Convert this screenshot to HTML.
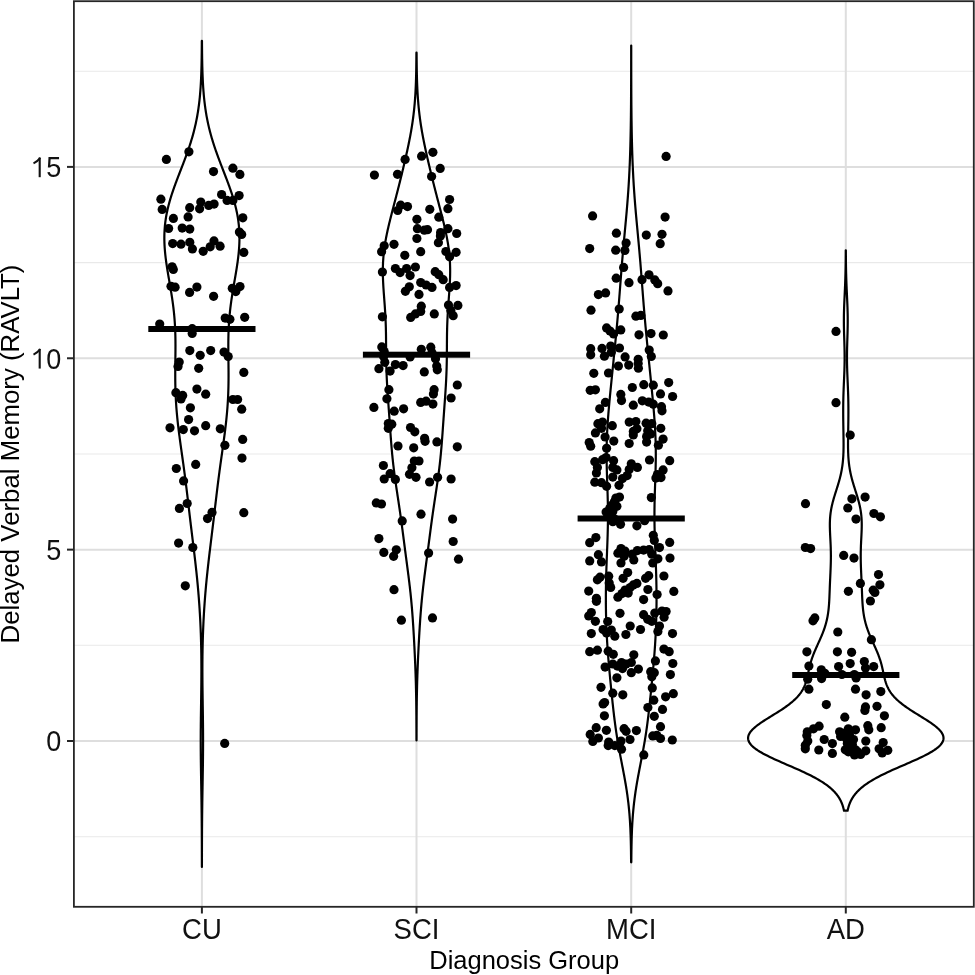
<!DOCTYPE html>
<html><head><meta charset="utf-8"><style>
html,body{margin:0;padding:0;background:#fff;width:975px;height:975px;overflow:hidden}
svg{display:block;will-change:transform}
.tk{font-family:"Liberation Sans",sans-serif;font-size:27px;fill:#111}
.ti{font-family:"Liberation Sans",sans-serif;font-size:25.5px;fill:#000}
</style></head><body>
<svg width="975" height="975" viewBox="0 0 975 975">
<rect width="975" height="975" fill="#fff"/>
<line x1="73.9" x2="973.8" y1="836.68" y2="836.68" stroke="#e9e9e9" stroke-width="1.1"/>
<line x1="73.9" x2="973.8" y1="645.32" y2="645.32" stroke="#e9e9e9" stroke-width="1.1"/>
<line x1="73.9" x2="973.8" y1="453.95" y2="453.95" stroke="#e9e9e9" stroke-width="1.1"/>
<line x1="73.9" x2="973.8" y1="262.59" y2="262.59" stroke="#e9e9e9" stroke-width="1.1"/>
<line x1="73.9" x2="973.8" y1="71.22" y2="71.22" stroke="#e9e9e9" stroke-width="1.1"/>
<line x1="73.9" x2="973.8" y1="741.00" y2="741.00" stroke="#dedede" stroke-width="2"/>
<line x1="73.9" x2="973.8" y1="549.63" y2="549.63" stroke="#dedede" stroke-width="2"/>
<line x1="73.9" x2="973.8" y1="358.27" y2="358.27" stroke="#dedede" stroke-width="2"/>
<line x1="73.9" x2="973.8" y1="166.90" y2="166.90" stroke="#dedede" stroke-width="2"/>
<line x1="201.9" x2="201.9" y1="1.2" y2="906.8" stroke="#dedede" stroke-width="2"/>
<line x1="416.5" x2="416.5" y1="1.2" y2="906.8" stroke="#dedede" stroke-width="2"/>
<line x1="631.2" x2="631.2" y1="1.2" y2="906.8" stroke="#dedede" stroke-width="2"/>
<line x1="845.8" x2="845.8" y1="1.2" y2="906.8" stroke="#dedede" stroke-width="2"/>
<path d="M201.89,866.96 L201.89,865.34 L201.88,863.72 L201.88,862.11 L201.88,860.49 L201.88,858.87 L201.87,857.26 L201.87,855.64 L201.87,854.02 L201.87,852.41 L201.86,850.79 L201.86,849.18 L201.85,847.56 L201.85,845.94 L201.84,844.33 L201.84,842.71 L201.83,841.09 L201.83,839.48 L201.82,837.86 L201.81,836.24 L201.80,834.63 L201.79,833.01 L201.79,831.39 L201.78,829.78 L201.77,828.16 L201.75,826.55 L201.74,824.93 L201.73,823.31 L201.72,821.70 L201.70,820.08 L201.69,818.46 L201.67,816.85 L201.66,815.23 L201.64,813.61 L201.62,812.00 L201.60,810.38 L201.58,808.76 L201.56,807.15 L201.54,805.53 L201.52,803.91 L201.50,802.30 L201.48,800.68 L201.45,799.07 L201.43,797.45 L201.40,795.83 L201.38,794.22 L201.35,792.60 L201.33,790.98 L201.30,789.37 L201.27,787.75 L201.25,786.13 L201.22,784.52 L201.19,782.90 L201.17,781.28 L201.14,779.67 L201.11,778.05 L201.08,776.44 L201.06,774.82 L201.03,773.20 L201.01,771.59 L200.98,769.97 L200.96,768.35 L200.93,766.74 L200.91,765.12 L200.89,763.50 L200.87,761.89 L200.85,760.27 L200.83,758.65 L200.82,757.04 L200.80,755.42 L200.79,753.80 L200.78,752.19 L200.76,750.57 L200.76,748.96 L200.75,747.34 L200.74,745.72 L200.74,744.11 L200.73,742.49 L200.73,740.87 L200.73,739.26 L200.74,737.64 L200.74,736.02 L200.75,734.41 L200.75,732.79 L200.76,731.17 L200.77,729.56 L200.79,727.94 L200.80,726.32 L200.81,724.71 L200.83,723.09 L200.85,721.48 L200.87,719.86 L200.88,718.24 L200.90,716.63 L200.93,715.01 L200.95,713.39 L200.97,711.78 L200.99,710.16 L201.02,708.54 L201.04,706.93 L201.06,705.31 L201.09,703.69 L201.11,702.08 L201.13,700.46 L201.16,698.85 L201.18,697.23 L201.20,695.61 L201.22,694.00 L201.24,692.38 L201.26,690.76 L201.28,689.15 L201.30,687.53 L201.32,685.91 L201.33,684.30 L201.35,682.68 L201.36,681.06 L201.37,679.45 L201.38,677.83 L201.39,676.21 L201.40,674.60 L201.40,672.98 L201.41,671.37 L201.41,669.75 L201.41,668.13 L201.40,666.52 L201.40,664.90 L201.39,663.28 L201.38,661.67 L201.37,660.05 L201.35,658.43 L201.34,656.82 L201.32,655.20 L201.30,653.58 L201.27,651.97 L201.25,650.35 L201.22,648.74 L201.18,647.12 L201.15,645.50 L201.11,643.89 L201.07,642.27 L201.03,640.65 L200.98,639.04 L200.94,637.42 L200.88,635.80 L200.83,634.19 L200.77,632.57 L200.71,630.95 L200.65,629.34 L200.58,627.72 L200.51,626.10 L200.44,624.49 L200.37,622.87 L200.29,621.26 L200.21,619.64 L200.12,618.02 L200.03,616.41 L199.94,614.79 L199.85,613.17 L199.75,611.56 L199.65,609.94 L199.55,608.32 L199.44,606.71 L199.33,605.09 L199.22,603.47 L199.10,601.86 L198.98,600.24 L198.86,598.63 L198.73,597.01 L198.61,595.39 L198.47,593.78 L198.34,592.16 L198.20,590.54 L198.06,588.93 L197.92,587.31 L197.77,585.69 L197.62,584.08 L197.46,582.46 L197.31,580.84 L197.15,579.23 L196.99,577.61 L196.82,575.99 L196.66,574.38 L196.49,572.76 L196.32,571.15 L196.14,569.53 L195.96,567.91 L195.79,566.30 L195.60,564.68 L195.42,563.06 L195.24,561.45 L195.05,559.83 L194.86,558.21 L194.67,556.60 L194.48,554.98 L194.29,553.36 L194.10,551.75 L193.90,550.13 L193.71,548.52 L193.51,546.90 L193.31,545.28 L193.12,543.67 L192.92,542.05 L192.72,540.43 L192.52,538.82 L192.32,537.20 L192.13,535.58 L191.93,533.97 L191.73,532.35 L191.53,530.73 L191.34,529.12 L191.14,527.50 L190.95,525.88 L190.75,524.27 L190.56,522.65 L190.36,521.04 L190.17,519.42 L189.98,517.80 L189.79,516.19 L189.59,514.57 L189.40,512.95 L189.21,511.34 L189.02,509.72 L188.83,508.10 L188.64,506.49 L188.45,504.87 L188.26,503.25 L188.07,501.64 L187.88,500.02 L187.69,498.40 L187.49,496.79 L187.30,495.17 L187.11,493.56 L186.91,491.94 L186.72,490.32 L186.52,488.71 L186.32,487.09 L186.12,485.47 L185.92,483.86 L185.72,482.24 L185.51,480.62 L185.31,479.01 L185.10,477.39 L184.89,475.77 L184.68,474.16 L184.46,472.54 L184.25,470.93 L184.03,469.31 L183.81,467.69 L183.59,466.08 L183.37,464.46 L183.14,462.84 L182.92,461.23 L182.69,459.61 L182.47,457.99 L182.24,456.38 L182.01,454.76 L181.78,453.14 L181.56,451.53 L181.33,449.91 L181.10,448.29 L180.87,446.68 L180.65,445.06 L180.42,443.45 L180.20,441.83 L179.98,440.21 L179.76,438.60 L179.55,436.98 L179.33,435.36 L179.12,433.75 L178.92,432.13 L178.71,430.51 L178.51,428.90 L178.32,427.28 L178.13,425.66 L177.94,424.05 L177.76,422.43 L177.59,420.82 L177.42,419.20 L177.26,417.58 L177.10,415.97 L176.95,414.35 L176.80,412.73 L176.66,411.12 L176.53,409.50 L176.40,407.88 L176.28,406.27 L176.17,404.65 L176.06,403.03 L175.96,401.42 L175.87,399.80 L175.79,398.18 L175.71,396.57 L175.63,394.95 L175.57,393.34 L175.51,391.72 L175.46,390.10 L175.41,388.49 L175.37,386.87 L175.34,385.25 L175.31,383.64 L175.29,382.02 L175.27,380.40 L175.26,378.79 L175.25,377.17 L175.25,375.55 L175.25,373.94 L175.25,372.32 L175.26,370.71 L175.27,369.09 L175.29,367.47 L175.30,365.86 L175.32,364.24 L175.34,362.62 L175.36,361.01 L175.37,359.39 L175.39,357.77 L175.41,356.16 L175.43,354.54 L175.44,352.92 L175.46,351.31 L175.47,349.69 L175.47,348.07 L175.48,346.46 L175.48,344.84 L175.47,343.23 L175.46,341.61 L175.44,339.99 L175.42,338.38 L175.39,336.76 L175.35,335.14 L175.31,333.53 L175.26,331.91 L175.20,330.29 L175.13,328.68 L175.05,327.06 L174.96,325.44 L174.87,323.83 L174.76,322.21 L174.65,320.60 L174.53,318.98 L174.39,317.36 L174.25,315.75 L174.10,314.13 L173.94,312.51 L173.77,310.90 L173.59,309.28 L173.40,307.66 L173.20,306.05 L172.99,304.43 L172.77,302.81 L172.55,301.20 L172.32,299.58 L172.08,297.96 L171.83,296.35 L171.58,294.73 L171.33,293.12 L171.06,291.50 L170.80,289.88 L170.52,288.27 L170.25,286.65 L169.97,285.03 L169.70,283.42 L169.42,281.80 L169.14,280.18 L168.86,278.57 L168.58,276.95 L168.30,275.33 L168.03,273.72 L167.76,272.10 L167.49,270.48 L167.23,268.87 L166.98,267.25 L166.73,265.64 L166.49,264.02 L166.26,262.40 L166.04,260.79 L165.83,259.17 L165.63,257.55 L165.44,255.94 L165.26,254.32 L165.10,252.70 L164.95,251.09 L164.82,249.47 L164.70,247.85 L164.60,246.24 L164.51,244.62 L164.44,243.01 L164.39,241.39 L164.36,239.77 L164.35,238.16 L164.35,236.54 L164.38,234.92 L164.43,233.31 L164.49,231.69 L164.58,230.07 L164.69,228.46 L164.82,226.84 L164.97,225.22 L165.15,223.61 L165.34,221.99 L165.56,220.37 L165.79,218.76 L166.05,217.14 L166.33,215.53 L166.63,213.91 L166.95,212.29 L167.30,210.68 L167.66,209.06 L168.04,207.44 L168.44,205.83 L168.86,204.21 L169.30,202.59 L169.75,200.98 L170.22,199.36 L170.71,197.74 L171.21,196.13 L171.73,194.51 L172.26,192.90 L172.80,191.28 L173.36,189.66 L173.93,188.05 L174.50,186.43 L175.09,184.81 L175.69,183.20 L176.29,181.58 L176.90,179.96 L177.51,178.35 L178.13,176.73 L178.76,175.11 L179.38,173.50 L180.01,171.88 L180.64,170.26 L181.26,168.65 L181.89,167.03 L182.51,165.42 L183.13,163.80 L183.75,162.18 L184.36,160.57 L184.97,158.95 L185.57,157.33 L186.17,155.72 L186.75,154.10 L187.33,152.48 L187.90,150.87 L188.46,149.25 L189.01,147.63 L189.55,146.02 L190.07,144.40 L190.59,142.79 L191.09,141.17 L191.58,139.55 L192.06,137.94 L192.53,136.32 L192.98,134.70 L193.42,133.09 L193.85,131.47 L194.26,129.85 L194.66,128.24 L195.04,126.62 L195.41,125.00 L195.77,123.39 L196.11,121.77 L196.44,120.15 L196.76,118.54 L197.07,116.92 L197.36,115.31 L197.63,113.69 L197.90,112.07 L198.15,110.46 L198.39,108.84 L198.62,107.22 L198.84,105.61 L199.05,103.99 L199.24,102.37 L199.43,100.76 L199.60,99.14 L199.77,97.52 L199.92,95.91 L200.07,94.29 L200.20,92.68 L200.33,91.06 L200.45,89.44 L200.57,87.83 L200.67,86.21 L200.77,84.59 L200.86,82.98 L200.95,81.36 L201.03,79.74 L201.10,78.13 L201.17,76.51 L201.24,74.89 L201.29,73.28 L201.35,71.66 L201.40,70.04 L201.44,68.43 L201.49,66.81 L201.53,65.20 L201.56,63.58 L201.59,61.96 L201.62,60.35 L201.65,58.73 L201.68,57.11 L201.70,55.50 L201.72,53.88 L201.74,52.26 L201.75,50.65 L201.77,49.03 L201.78,47.41 L201.80,45.80 L201.81,44.18 L201.82,42.57 L201.83,40.95 L201.97,40.95 L201.98,42.57 L201.99,44.18 L202.00,45.80 L202.02,47.41 L202.03,49.03 L202.05,50.65 L202.06,52.26 L202.08,53.88 L202.10,55.50 L202.12,57.11 L202.15,58.73 L202.18,60.35 L202.21,61.96 L202.24,63.58 L202.27,65.20 L202.31,66.81 L202.36,68.43 L202.40,70.04 L202.45,71.66 L202.51,73.28 L202.56,74.89 L202.63,76.51 L202.70,78.13 L202.77,79.74 L202.85,81.36 L202.94,82.98 L203.03,84.59 L203.13,86.21 L203.23,87.83 L203.35,89.44 L203.47,91.06 L203.60,92.68 L203.73,94.29 L203.88,95.91 L204.03,97.52 L204.20,99.14 L204.37,100.76 L204.56,102.37 L204.75,103.99 L204.96,105.61 L205.18,107.22 L205.41,108.84 L205.65,110.46 L205.90,112.07 L206.17,113.69 L206.44,115.31 L206.73,116.92 L207.04,118.54 L207.36,120.15 L207.69,121.77 L208.03,123.39 L208.39,125.00 L208.76,126.62 L209.14,128.24 L209.54,129.85 L209.95,131.47 L210.38,133.09 L210.82,134.70 L211.27,136.32 L211.74,137.94 L212.22,139.55 L212.71,141.17 L213.21,142.79 L213.73,144.40 L214.25,146.02 L214.79,147.63 L215.34,149.25 L215.90,150.87 L216.47,152.48 L217.05,154.10 L217.63,155.72 L218.23,157.33 L218.83,158.95 L219.44,160.57 L220.05,162.18 L220.67,163.80 L221.29,165.42 L221.91,167.03 L222.54,168.65 L223.16,170.26 L223.79,171.88 L224.42,173.50 L225.04,175.11 L225.67,176.73 L226.29,178.35 L226.90,179.96 L227.51,181.58 L228.11,183.20 L228.71,184.81 L229.30,186.43 L229.87,188.05 L230.44,189.66 L231.00,191.28 L231.54,192.90 L232.07,194.51 L232.59,196.13 L233.09,197.74 L233.58,199.36 L234.05,200.98 L234.50,202.59 L234.94,204.21 L235.36,205.83 L235.76,207.44 L236.14,209.06 L236.50,210.68 L236.85,212.29 L237.17,213.91 L237.47,215.53 L237.75,217.14 L238.01,218.76 L238.24,220.37 L238.46,221.99 L238.65,223.61 L238.83,225.22 L238.98,226.84 L239.11,228.46 L239.22,230.07 L239.31,231.69 L239.37,233.31 L239.42,234.92 L239.45,236.54 L239.45,238.16 L239.44,239.77 L239.41,241.39 L239.36,243.01 L239.29,244.62 L239.20,246.24 L239.10,247.85 L238.98,249.47 L238.85,251.09 L238.70,252.70 L238.54,254.32 L238.36,255.94 L238.17,257.55 L237.97,259.17 L237.76,260.79 L237.54,262.40 L237.31,264.02 L237.07,265.64 L236.82,267.25 L236.57,268.87 L236.31,270.48 L236.04,272.10 L235.77,273.72 L235.50,275.33 L235.22,276.95 L234.94,278.57 L234.66,280.18 L234.38,281.80 L234.10,283.42 L233.83,285.03 L233.55,286.65 L233.28,288.27 L233.00,289.88 L232.74,291.50 L232.47,293.12 L232.22,294.73 L231.97,296.35 L231.72,297.96 L231.48,299.58 L231.25,301.20 L231.03,302.81 L230.81,304.43 L230.60,306.05 L230.40,307.66 L230.21,309.28 L230.03,310.90 L229.86,312.51 L229.70,314.13 L229.55,315.75 L229.41,317.36 L229.27,318.98 L229.15,320.60 L229.04,322.21 L228.93,323.83 L228.84,325.44 L228.75,327.06 L228.67,328.68 L228.60,330.29 L228.54,331.91 L228.49,333.53 L228.45,335.14 L228.41,336.76 L228.38,338.38 L228.36,339.99 L228.34,341.61 L228.33,343.23 L228.32,344.84 L228.32,346.46 L228.33,348.07 L228.33,349.69 L228.34,351.31 L228.36,352.92 L228.37,354.54 L228.39,356.16 L228.41,357.77 L228.43,359.39 L228.44,361.01 L228.46,362.62 L228.48,364.24 L228.50,365.86 L228.51,367.47 L228.53,369.09 L228.54,370.71 L228.55,372.32 L228.55,373.94 L228.55,375.55 L228.55,377.17 L228.54,378.79 L228.53,380.40 L228.51,382.02 L228.49,383.64 L228.46,385.25 L228.43,386.87 L228.39,388.49 L228.34,390.10 L228.29,391.72 L228.23,393.34 L228.17,394.95 L228.09,396.57 L228.01,398.18 L227.93,399.80 L227.84,401.42 L227.74,403.03 L227.63,404.65 L227.52,406.27 L227.40,407.88 L227.27,409.50 L227.14,411.12 L227.00,412.73 L226.85,414.35 L226.70,415.97 L226.54,417.58 L226.38,419.20 L226.21,420.82 L226.04,422.43 L225.86,424.05 L225.67,425.66 L225.48,427.28 L225.29,428.90 L225.09,430.51 L224.88,432.13 L224.68,433.75 L224.47,435.36 L224.25,436.98 L224.04,438.60 L223.82,440.21 L223.60,441.83 L223.38,443.45 L223.15,445.06 L222.93,446.68 L222.70,448.29 L222.47,449.91 L222.24,451.53 L222.02,453.14 L221.79,454.76 L221.56,456.38 L221.33,457.99 L221.11,459.61 L220.88,461.23 L220.66,462.84 L220.43,464.46 L220.21,466.08 L219.99,467.69 L219.77,469.31 L219.55,470.93 L219.34,472.54 L219.12,474.16 L218.91,475.77 L218.70,477.39 L218.49,479.01 L218.29,480.62 L218.08,482.24 L217.88,483.86 L217.68,485.47 L217.48,487.09 L217.28,488.71 L217.08,490.32 L216.89,491.94 L216.69,493.56 L216.50,495.17 L216.31,496.79 L216.11,498.40 L215.92,500.02 L215.73,501.64 L215.54,503.25 L215.35,504.87 L215.16,506.49 L214.97,508.10 L214.78,509.72 L214.59,511.34 L214.40,512.95 L214.21,514.57 L214.01,516.19 L213.82,517.80 L213.63,519.42 L213.44,521.04 L213.24,522.65 L213.05,524.27 L212.85,525.88 L212.66,527.50 L212.46,529.12 L212.27,530.73 L212.07,532.35 L211.87,533.97 L211.67,535.58 L211.48,537.20 L211.28,538.82 L211.08,540.43 L210.88,542.05 L210.68,543.67 L210.49,545.28 L210.29,546.90 L210.09,548.52 L209.90,550.13 L209.70,551.75 L209.51,553.36 L209.32,554.98 L209.13,556.60 L208.94,558.21 L208.75,559.83 L208.56,561.45 L208.38,563.06 L208.20,564.68 L208.01,566.30 L207.84,567.91 L207.66,569.53 L207.48,571.15 L207.31,572.76 L207.14,574.38 L206.98,575.99 L206.81,577.61 L206.65,579.23 L206.49,580.84 L206.34,582.46 L206.18,584.08 L206.03,585.69 L205.88,587.31 L205.74,588.93 L205.60,590.54 L205.46,592.16 L205.33,593.78 L205.19,595.39 L205.07,597.01 L204.94,598.63 L204.82,600.24 L204.70,601.86 L204.58,603.47 L204.47,605.09 L204.36,606.71 L204.25,608.32 L204.15,609.94 L204.05,611.56 L203.95,613.17 L203.86,614.79 L203.77,616.41 L203.68,618.02 L203.59,619.64 L203.51,621.26 L203.43,622.87 L203.36,624.49 L203.29,626.10 L203.22,627.72 L203.15,629.34 L203.09,630.95 L203.03,632.57 L202.97,634.19 L202.92,635.80 L202.86,637.42 L202.82,639.04 L202.77,640.65 L202.73,642.27 L202.69,643.89 L202.65,645.50 L202.62,647.12 L202.58,648.74 L202.55,650.35 L202.53,651.97 L202.50,653.58 L202.48,655.20 L202.46,656.82 L202.45,658.43 L202.43,660.05 L202.42,661.67 L202.41,663.28 L202.40,664.90 L202.40,666.52 L202.39,668.13 L202.39,669.75 L202.39,671.37 L202.40,672.98 L202.40,674.60 L202.41,676.21 L202.42,677.83 L202.43,679.45 L202.44,681.06 L202.45,682.68 L202.47,684.30 L202.48,685.91 L202.50,687.53 L202.52,689.15 L202.54,690.76 L202.56,692.38 L202.58,694.00 L202.60,695.61 L202.62,697.23 L202.64,698.85 L202.67,700.46 L202.69,702.08 L202.71,703.69 L202.74,705.31 L202.76,706.93 L202.78,708.54 L202.81,710.16 L202.83,711.78 L202.85,713.39 L202.87,715.01 L202.90,716.63 L202.92,718.24 L202.93,719.86 L202.95,721.48 L202.97,723.09 L202.99,724.71 L203.00,726.32 L203.01,727.94 L203.03,729.56 L203.04,731.17 L203.05,732.79 L203.05,734.41 L203.06,736.02 L203.06,737.64 L203.07,739.26 L203.07,740.87 L203.07,742.49 L203.06,744.11 L203.06,745.72 L203.05,747.34 L203.04,748.96 L203.04,750.57 L203.02,752.19 L203.01,753.80 L203.00,755.42 L202.98,757.04 L202.97,758.65 L202.95,760.27 L202.93,761.89 L202.91,763.50 L202.89,765.12 L202.87,766.74 L202.84,768.35 L202.82,769.97 L202.79,771.59 L202.77,773.20 L202.74,774.82 L202.72,776.44 L202.69,778.05 L202.66,779.67 L202.63,781.28 L202.61,782.90 L202.58,784.52 L202.55,786.13 L202.53,787.75 L202.50,789.37 L202.47,790.98 L202.45,792.60 L202.42,794.22 L202.40,795.83 L202.37,797.45 L202.35,799.07 L202.32,800.68 L202.30,802.30 L202.28,803.91 L202.26,805.53 L202.24,807.15 L202.22,808.76 L202.20,810.38 L202.18,812.00 L202.16,813.61 L202.14,815.23 L202.13,816.85 L202.11,818.46 L202.10,820.08 L202.08,821.70 L202.07,823.31 L202.06,824.93 L202.05,826.55 L202.03,828.16 L202.02,829.78 L202.01,831.39 L202.01,833.01 L202.00,834.63 L201.99,836.24 L201.98,837.86 L201.97,839.48 L201.97,841.09 L201.96,842.71 L201.96,844.33 L201.95,845.94 L201.95,847.56 L201.94,849.18 L201.94,850.79 L201.93,852.41 L201.93,854.02 L201.93,855.64 L201.93,857.26 L201.92,858.87 L201.92,860.49 L201.92,862.11 L201.92,863.72 L201.91,865.34 L201.91,866.96Z" fill="#fff" stroke="#000" stroke-width="2.2" stroke-linejoin="round"/>
<path d="M416.48,740.43 L416.48,739.08 L416.47,737.73 L416.47,736.39 L416.47,735.04 L416.47,733.70 L416.46,732.35 L416.46,731.00 L416.45,729.66 L416.45,728.31 L416.44,726.97 L416.44,725.62 L416.43,724.27 L416.43,722.93 L416.42,721.58 L416.41,720.24 L416.40,718.89 L416.39,717.55 L416.39,716.20 L416.37,714.85 L416.36,713.51 L416.35,712.16 L416.34,710.82 L416.33,709.47 L416.31,708.12 L416.30,706.78 L416.28,705.43 L416.26,704.09 L416.25,702.74 L416.23,701.39 L416.21,700.05 L416.19,698.70 L416.16,697.36 L416.14,696.01 L416.12,694.66 L416.09,693.32 L416.06,691.97 L416.03,690.63 L416.00,689.28 L415.97,687.93 L415.94,686.59 L415.91,685.24 L415.87,683.90 L415.84,682.55 L415.80,681.21 L415.76,679.86 L415.72,678.51 L415.67,677.17 L415.63,675.82 L415.59,674.48 L415.54,673.13 L415.49,671.78 L415.44,670.44 L415.39,669.09 L415.34,667.75 L415.29,666.40 L415.24,665.05 L415.18,663.71 L415.12,662.36 L415.07,661.02 L415.01,659.67 L414.95,658.32 L414.89,656.98 L414.83,655.63 L414.76,654.29 L414.70,652.94 L414.64,651.60 L414.57,650.25 L414.50,648.90 L414.44,647.56 L414.37,646.21 L414.30,644.87 L414.23,643.52 L414.16,642.17 L414.09,640.83 L414.01,639.48 L413.94,638.14 L413.86,636.79 L413.79,635.44 L413.71,634.10 L413.63,632.75 L413.55,631.41 L413.47,630.06 L413.39,628.71 L413.31,627.37 L413.22,626.02 L413.14,624.68 L413.05,623.33 L412.96,621.98 L412.87,620.64 L412.78,619.29 L412.68,617.95 L412.58,616.60 L412.48,615.26 L412.38,613.91 L412.28,612.56 L412.17,611.22 L412.07,609.87 L411.96,608.53 L411.84,607.18 L411.73,605.83 L411.61,604.49 L411.49,603.14 L411.36,601.80 L411.24,600.45 L411.11,599.10 L410.97,597.76 L410.84,596.41 L410.70,595.07 L410.56,593.72 L410.42,592.37 L410.27,591.03 L410.12,589.68 L409.97,588.34 L409.82,586.99 L409.66,585.64 L409.50,584.30 L409.34,582.95 L409.18,581.61 L409.02,580.26 L408.85,578.92 L408.68,577.57 L408.51,576.22 L408.34,574.88 L408.17,573.53 L407.99,572.19 L407.82,570.84 L407.64,569.49 L407.47,568.15 L407.29,566.80 L407.11,565.46 L406.94,564.11 L406.76,562.76 L406.58,561.42 L406.40,560.07 L406.23,558.73 L406.05,557.38 L405.87,556.03 L405.69,554.69 L405.52,553.34 L405.34,552.00 L405.16,550.65 L404.99,549.31 L404.81,547.96 L404.64,546.61 L404.46,545.27 L404.29,543.92 L404.11,542.58 L403.94,541.23 L403.77,539.88 L403.59,538.54 L403.42,537.19 L403.24,535.85 L403.07,534.50 L402.89,533.15 L402.72,531.81 L402.54,530.46 L402.36,529.12 L402.19,527.77 L402.01,526.42 L401.83,525.08 L401.65,523.73 L401.46,522.39 L401.28,521.04 L401.10,519.69 L400.91,518.35 L400.72,517.00 L400.53,515.66 L400.34,514.31 L400.15,512.97 L399.96,511.62 L399.76,510.27 L399.57,508.93 L399.37,507.58 L399.17,506.24 L398.97,504.89 L398.77,503.54 L398.57,502.20 L398.37,500.85 L398.16,499.51 L397.96,498.16 L397.76,496.81 L397.55,495.47 L397.35,494.12 L397.15,492.78 L396.94,491.43 L396.74,490.08 L396.54,488.74 L396.34,487.39 L396.14,486.05 L395.94,484.70 L395.74,483.35 L395.55,482.01 L395.36,480.66 L395.17,479.32 L394.98,477.97 L394.80,476.63 L394.61,475.28 L394.43,473.93 L394.26,472.59 L394.09,471.24 L393.92,469.90 L393.75,468.55 L393.59,467.20 L393.43,465.86 L393.27,464.51 L393.12,463.17 L392.97,461.82 L392.82,460.47 L392.68,459.13 L392.54,457.78 L392.41,456.44 L392.27,455.09 L392.15,453.74 L392.02,452.40 L391.90,451.05 L391.78,449.71 L391.66,448.36 L391.54,447.02 L391.43,445.67 L391.32,444.32 L391.21,442.98 L391.11,441.63 L391.00,440.29 L390.90,438.94 L390.80,437.59 L390.70,436.25 L390.60,434.90 L390.50,433.56 L390.41,432.21 L390.31,430.86 L390.22,429.52 L390.12,428.17 L390.03,426.83 L389.93,425.48 L389.84,424.13 L389.74,422.79 L389.65,421.44 L389.55,420.10 L389.46,418.75 L389.36,417.40 L389.26,416.06 L389.17,414.71 L389.07,413.37 L388.97,412.02 L388.88,410.68 L388.78,409.33 L388.68,407.98 L388.59,406.64 L388.49,405.29 L388.39,403.95 L388.29,402.60 L388.20,401.25 L388.10,399.91 L388.01,398.56 L387.91,397.22 L387.82,395.87 L387.73,394.52 L387.64,393.18 L387.55,391.83 L387.46,390.49 L387.38,389.14 L387.29,387.79 L387.21,386.45 L387.13,385.10 L387.06,383.76 L386.98,382.41 L386.91,381.06 L386.84,379.72 L386.78,378.37 L386.71,377.03 L386.66,375.68 L386.60,374.34 L386.55,372.99 L386.50,371.64 L386.45,370.30 L386.41,368.95 L386.37,367.61 L386.34,366.26 L386.30,364.91 L386.27,363.57 L386.25,362.22 L386.22,360.88 L386.20,359.53 L386.18,358.18 L386.17,356.84 L386.15,355.49 L386.14,354.15 L386.13,352.80 L386.12,351.45 L386.11,350.11 L386.10,348.76 L386.09,347.42 L386.09,346.07 L386.08,344.73 L386.07,343.38 L386.06,342.03 L386.05,340.69 L386.04,339.34 L386.03,338.00 L386.02,336.65 L386.00,335.30 L385.98,333.96 L385.96,332.61 L385.93,331.27 L385.90,329.92 L385.87,328.57 L385.84,327.23 L385.80,325.88 L385.75,324.54 L385.71,323.19 L385.65,321.84 L385.60,320.50 L385.54,319.15 L385.48,317.81 L385.41,316.46 L385.34,315.11 L385.26,313.77 L385.18,312.42 L385.10,311.08 L385.01,309.73 L384.92,308.39 L384.83,307.04 L384.74,305.69 L384.64,304.35 L384.54,303.00 L384.44,301.66 L384.34,300.31 L384.24,298.96 L384.14,297.62 L384.04,296.27 L383.94,294.93 L383.84,293.58 L383.74,292.23 L383.65,290.89 L383.56,289.54 L383.47,288.20 L383.38,286.85 L383.30,285.50 L383.23,284.16 L383.16,282.81 L383.09,281.47 L383.04,280.12 L382.99,278.77 L382.94,277.43 L382.91,276.08 L382.88,274.74 L382.86,273.39 L382.85,272.05 L382.84,270.70 L382.85,269.35 L382.87,268.01 L382.90,266.66 L382.94,265.32 L382.98,263.97 L383.04,262.62 L383.11,261.28 L383.20,259.93 L383.29,258.59 L383.39,257.24 L383.50,255.89 L383.63,254.55 L383.77,253.20 L383.91,251.86 L384.07,250.51 L384.24,249.16 L384.42,247.82 L384.61,246.47 L384.81,245.13 L385.03,243.78 L385.25,242.44 L385.48,241.09 L385.72,239.74 L385.97,238.40 L386.22,237.05 L386.49,235.71 L386.76,234.36 L387.04,233.01 L387.33,231.67 L387.62,230.32 L387.92,228.98 L388.23,227.63 L388.54,226.28 L388.86,224.94 L389.18,223.59 L389.51,222.25 L389.84,220.90 L390.17,219.55 L390.51,218.21 L390.85,216.86 L391.20,215.52 L391.54,214.17 L391.89,212.82 L392.24,211.48 L392.59,210.13 L392.94,208.79 L393.29,207.44 L393.64,206.10 L393.99,204.75 L394.34,203.40 L394.69,202.06 L395.05,200.71 L395.40,199.37 L395.75,198.02 L396.10,196.67 L396.44,195.33 L396.79,193.98 L397.14,192.64 L397.48,191.29 L397.83,189.94 L398.17,188.60 L398.51,187.25 L398.85,185.91 L399.19,184.56 L399.53,183.21 L399.87,181.87 L400.20,180.52 L400.53,179.18 L400.87,177.83 L401.20,176.48 L401.53,175.14 L401.86,173.79 L402.18,172.45 L402.51,171.10 L402.83,169.76 L403.15,168.41 L403.48,167.06 L403.79,165.72 L404.11,164.37 L404.43,163.03 L404.74,161.68 L405.05,160.33 L405.36,158.99 L405.67,157.64 L405.98,156.30 L406.28,154.95 L406.58,153.60 L406.88,152.26 L407.18,150.91 L407.47,149.57 L407.76,148.22 L408.04,146.87 L408.33,145.53 L408.61,144.18 L408.88,142.84 L409.15,141.49 L409.42,140.14 L409.68,138.80 L409.94,137.45 L410.20,136.11 L410.45,134.76 L410.69,133.42 L410.93,132.07 L411.17,130.72 L411.39,129.38 L411.62,128.03 L411.84,126.69 L412.05,125.34 L412.26,123.99 L412.46,122.65 L412.65,121.30 L412.84,119.96 L413.03,118.61 L413.20,117.26 L413.37,115.92 L413.54,114.57 L413.70,113.23 L413.85,111.88 L414.00,110.53 L414.14,109.19 L414.28,107.84 L414.41,106.50 L414.54,105.15 L414.66,103.81 L414.77,102.46 L414.88,101.11 L414.98,99.77 L415.08,98.42 L415.17,97.08 L415.26,95.73 L415.35,94.38 L415.43,93.04 L415.50,91.69 L415.57,90.35 L415.64,89.00 L415.70,87.65 L415.76,86.31 L415.82,84.96 L415.87,83.62 L415.92,82.27 L415.96,80.92 L416.01,79.58 L416.05,78.23 L416.08,76.89 L416.12,75.54 L416.15,74.19 L416.18,72.85 L416.21,71.50 L416.23,70.16 L416.26,68.81 L416.28,67.47 L416.30,66.12 L416.32,64.77 L416.33,63.43 L416.35,62.08 L416.36,60.74 L416.38,59.39 L416.39,58.04 L416.40,56.70 L416.41,55.35 L416.42,54.01 L416.43,52.66 L416.57,52.66 L416.58,54.01 L416.59,55.35 L416.60,56.70 L416.61,58.04 L416.62,59.39 L416.64,60.74 L416.65,62.08 L416.67,63.43 L416.68,64.77 L416.70,66.12 L416.72,67.47 L416.74,68.81 L416.77,70.16 L416.79,71.50 L416.82,72.85 L416.85,74.19 L416.88,75.54 L416.92,76.89 L416.95,78.23 L416.99,79.58 L417.04,80.92 L417.08,82.27 L417.13,83.62 L417.18,84.96 L417.24,86.31 L417.30,87.65 L417.36,89.00 L417.43,90.35 L417.50,91.69 L417.57,93.04 L417.65,94.38 L417.74,95.73 L417.83,97.08 L417.92,98.42 L418.02,99.77 L418.12,101.11 L418.23,102.46 L418.34,103.81 L418.46,105.15 L418.59,106.50 L418.72,107.84 L418.86,109.19 L419.00,110.53 L419.15,111.88 L419.30,113.23 L419.46,114.57 L419.63,115.92 L419.80,117.26 L419.97,118.61 L420.16,119.96 L420.35,121.30 L420.54,122.65 L420.74,123.99 L420.95,125.34 L421.16,126.69 L421.38,128.03 L421.61,129.38 L421.83,130.72 L422.07,132.07 L422.31,133.42 L422.55,134.76 L422.80,136.11 L423.06,137.45 L423.32,138.80 L423.58,140.14 L423.85,141.49 L424.12,142.84 L424.39,144.18 L424.67,145.53 L424.96,146.87 L425.24,148.22 L425.53,149.57 L425.82,150.91 L426.12,152.26 L426.42,153.60 L426.72,154.95 L427.02,156.30 L427.33,157.64 L427.64,158.99 L427.95,160.33 L428.26,161.68 L428.57,163.03 L428.89,164.37 L429.21,165.72 L429.52,167.06 L429.85,168.41 L430.17,169.76 L430.49,171.10 L430.82,172.45 L431.14,173.79 L431.47,175.14 L431.80,176.48 L432.13,177.83 L432.47,179.18 L432.80,180.52 L433.13,181.87 L433.47,183.21 L433.81,184.56 L434.15,185.91 L434.49,187.25 L434.83,188.60 L435.17,189.94 L435.52,191.29 L435.86,192.64 L436.21,193.98 L436.56,195.33 L436.90,196.67 L437.25,198.02 L437.60,199.37 L437.95,200.71 L438.31,202.06 L438.66,203.40 L439.01,204.75 L439.36,206.10 L439.71,207.44 L440.06,208.79 L440.41,210.13 L440.76,211.48 L441.11,212.82 L441.46,214.17 L441.80,215.52 L442.15,216.86 L442.49,218.21 L442.83,219.55 L443.16,220.90 L443.49,222.25 L443.82,223.59 L444.14,224.94 L444.46,226.28 L444.77,227.63 L445.08,228.98 L445.38,230.32 L445.67,231.67 L445.96,233.01 L446.24,234.36 L446.51,235.71 L446.78,237.05 L447.03,238.40 L447.28,239.74 L447.52,241.09 L447.75,242.44 L447.97,243.78 L448.19,245.13 L448.39,246.47 L448.58,247.82 L448.76,249.16 L448.93,250.51 L449.09,251.86 L449.23,253.20 L449.37,254.55 L449.50,255.89 L449.61,257.24 L449.71,258.59 L449.80,259.93 L449.89,261.28 L449.96,262.62 L450.02,263.97 L450.06,265.32 L450.10,266.66 L450.13,268.01 L450.15,269.35 L450.16,270.70 L450.15,272.05 L450.14,273.39 L450.12,274.74 L450.09,276.08 L450.06,277.43 L450.01,278.77 L449.96,280.12 L449.91,281.47 L449.84,282.81 L449.77,284.16 L449.70,285.50 L449.62,286.85 L449.53,288.20 L449.44,289.54 L449.35,290.89 L449.26,292.23 L449.16,293.58 L449.06,294.93 L448.96,296.27 L448.86,297.62 L448.76,298.96 L448.66,300.31 L448.56,301.66 L448.46,303.00 L448.36,304.35 L448.26,305.69 L448.17,307.04 L448.08,308.39 L447.99,309.73 L447.90,311.08 L447.82,312.42 L447.74,313.77 L447.66,315.11 L447.59,316.46 L447.52,317.81 L447.46,319.15 L447.40,320.50 L447.35,321.84 L447.29,323.19 L447.25,324.54 L447.20,325.88 L447.16,327.23 L447.13,328.57 L447.10,329.92 L447.07,331.27 L447.04,332.61 L447.02,333.96 L447.00,335.30 L446.98,336.65 L446.97,338.00 L446.96,339.34 L446.95,340.69 L446.94,342.03 L446.93,343.38 L446.92,344.73 L446.91,346.07 L446.91,347.42 L446.90,348.76 L446.89,350.11 L446.88,351.45 L446.87,352.80 L446.86,354.15 L446.85,355.49 L446.83,356.84 L446.82,358.18 L446.80,359.53 L446.78,360.88 L446.75,362.22 L446.73,363.57 L446.70,364.91 L446.66,366.26 L446.63,367.61 L446.59,368.95 L446.55,370.30 L446.50,371.64 L446.45,372.99 L446.40,374.34 L446.34,375.68 L446.29,377.03 L446.22,378.37 L446.16,379.72 L446.09,381.06 L446.02,382.41 L445.94,383.76 L445.87,385.10 L445.79,386.45 L445.71,387.79 L445.62,389.14 L445.54,390.49 L445.45,391.83 L445.36,393.18 L445.27,394.52 L445.18,395.87 L445.09,397.22 L444.99,398.56 L444.90,399.91 L444.80,401.25 L444.71,402.60 L444.61,403.95 L444.51,405.29 L444.41,406.64 L444.32,407.98 L444.22,409.33 L444.12,410.68 L444.03,412.02 L443.93,413.37 L443.83,414.71 L443.74,416.06 L443.64,417.40 L443.54,418.75 L443.45,420.10 L443.35,421.44 L443.26,422.79 L443.16,424.13 L443.07,425.48 L442.97,426.83 L442.88,428.17 L442.78,429.52 L442.69,430.86 L442.59,432.21 L442.50,433.56 L442.40,434.90 L442.30,436.25 L442.20,437.59 L442.10,438.94 L442.00,440.29 L441.89,441.63 L441.79,442.98 L441.68,444.32 L441.57,445.67 L441.46,447.02 L441.34,448.36 L441.22,449.71 L441.10,451.05 L440.98,452.40 L440.85,453.74 L440.73,455.09 L440.59,456.44 L440.46,457.78 L440.32,459.13 L440.18,460.47 L440.03,461.82 L439.88,463.17 L439.73,464.51 L439.57,465.86 L439.41,467.20 L439.25,468.55 L439.08,469.90 L438.91,471.24 L438.74,472.59 L438.57,473.93 L438.39,475.28 L438.20,476.63 L438.02,477.97 L437.83,479.32 L437.64,480.66 L437.45,482.01 L437.26,483.35 L437.06,484.70 L436.86,486.05 L436.66,487.39 L436.46,488.74 L436.26,490.08 L436.06,491.43 L435.85,492.78 L435.65,494.12 L435.45,495.47 L435.24,496.81 L435.04,498.16 L434.84,499.51 L434.63,500.85 L434.43,502.20 L434.23,503.54 L434.03,504.89 L433.83,506.24 L433.63,507.58 L433.43,508.93 L433.24,510.27 L433.04,511.62 L432.85,512.97 L432.66,514.31 L432.47,515.66 L432.28,517.00 L432.09,518.35 L431.90,519.69 L431.72,521.04 L431.54,522.39 L431.35,523.73 L431.17,525.08 L430.99,526.42 L430.81,527.77 L430.64,529.12 L430.46,530.46 L430.28,531.81 L430.11,533.15 L429.93,534.50 L429.76,535.85 L429.58,537.19 L429.41,538.54 L429.23,539.88 L429.06,541.23 L428.89,542.58 L428.71,543.92 L428.54,545.27 L428.36,546.61 L428.19,547.96 L428.01,549.31 L427.84,550.65 L427.66,552.00 L427.48,553.34 L427.31,554.69 L427.13,556.03 L426.95,557.38 L426.77,558.73 L426.60,560.07 L426.42,561.42 L426.24,562.76 L426.06,564.11 L425.89,565.46 L425.71,566.80 L425.53,568.15 L425.36,569.49 L425.18,570.84 L425.01,572.19 L424.83,573.53 L424.66,574.88 L424.49,576.22 L424.32,577.57 L424.15,578.92 L423.98,580.26 L423.82,581.61 L423.66,582.95 L423.50,584.30 L423.34,585.64 L423.18,586.99 L423.03,588.34 L422.88,589.68 L422.73,591.03 L422.58,592.37 L422.44,593.72 L422.30,595.07 L422.16,596.41 L422.03,597.76 L421.89,599.10 L421.76,600.45 L421.64,601.80 L421.51,603.14 L421.39,604.49 L421.27,605.83 L421.16,607.18 L421.04,608.53 L420.93,609.87 L420.83,611.22 L420.72,612.56 L420.62,613.91 L420.52,615.26 L420.42,616.60 L420.32,617.95 L420.22,619.29 L420.13,620.64 L420.04,621.98 L419.95,623.33 L419.86,624.68 L419.78,626.02 L419.69,627.37 L419.61,628.71 L419.53,630.06 L419.45,631.41 L419.37,632.75 L419.29,634.10 L419.21,635.44 L419.14,636.79 L419.06,638.14 L418.99,639.48 L418.91,640.83 L418.84,642.17 L418.77,643.52 L418.70,644.87 L418.63,646.21 L418.56,647.56 L418.50,648.90 L418.43,650.25 L418.36,651.60 L418.30,652.94 L418.24,654.29 L418.17,655.63 L418.11,656.98 L418.05,658.32 L417.99,659.67 L417.93,661.02 L417.88,662.36 L417.82,663.71 L417.76,665.05 L417.71,666.40 L417.66,667.75 L417.61,669.09 L417.56,670.44 L417.51,671.78 L417.46,673.13 L417.41,674.48 L417.37,675.82 L417.33,677.17 L417.28,678.51 L417.24,679.86 L417.20,681.21 L417.16,682.55 L417.13,683.90 L417.09,685.24 L417.06,686.59 L417.03,687.93 L417.00,689.28 L416.97,690.63 L416.94,691.97 L416.91,693.32 L416.88,694.66 L416.86,696.01 L416.84,697.36 L416.81,698.70 L416.79,700.05 L416.77,701.39 L416.75,702.74 L416.74,704.09 L416.72,705.43 L416.70,706.78 L416.69,708.12 L416.67,709.47 L416.66,710.82 L416.65,712.16 L416.64,713.51 L416.63,714.85 L416.61,716.20 L416.61,717.55 L416.60,718.89 L416.59,720.24 L416.58,721.58 L416.57,722.93 L416.57,724.27 L416.56,725.62 L416.56,726.97 L416.55,728.31 L416.55,729.66 L416.54,731.00 L416.54,732.35 L416.53,733.70 L416.53,735.04 L416.53,736.39 L416.53,737.73 L416.52,739.08 L416.52,740.43Z" fill="#fff" stroke="#000" stroke-width="2.2" stroke-linejoin="round"/>
<path d="M631.11,862.36 L631.09,860.77 L631.08,859.17 L631.07,857.57 L631.05,855.97 L631.03,854.37 L631.01,852.77 L630.99,851.17 L630.97,849.58 L630.94,847.98 L630.91,846.38 L630.88,844.78 L630.84,843.18 L630.81,841.58 L630.77,839.98 L630.72,838.39 L630.67,836.79 L630.62,835.19 L630.56,833.59 L630.50,831.99 L630.44,830.39 L630.37,828.80 L630.29,827.20 L630.21,825.60 L630.12,824.00 L630.03,822.40 L629.93,820.80 L629.82,819.20 L629.71,817.61 L629.59,816.01 L629.47,814.41 L629.34,812.81 L629.19,811.21 L629.05,809.61 L628.89,808.02 L628.73,806.42 L628.56,804.82 L628.38,803.22 L628.19,801.62 L628.00,800.02 L627.79,798.42 L627.58,796.83 L627.37,795.23 L627.14,793.63 L626.91,792.03 L626.67,790.43 L626.42,788.83 L626.17,787.24 L625.90,785.64 L625.64,784.04 L625.36,782.44 L625.09,780.84 L624.80,779.24 L624.51,777.64 L624.22,776.05 L623.92,774.45 L623.62,772.85 L623.32,771.25 L623.01,769.65 L622.71,768.05 L622.40,766.45 L622.09,764.86 L621.78,763.26 L621.47,761.66 L621.16,760.06 L620.85,758.46 L620.54,756.86 L620.23,755.27 L619.93,753.67 L619.63,752.07 L619.33,750.47 L619.04,748.87 L618.75,747.27 L618.47,745.67 L618.19,744.08 L617.91,742.48 L617.64,740.88 L617.37,739.28 L617.11,737.68 L616.86,736.08 L616.61,734.49 L616.36,732.89 L616.13,731.29 L615.89,729.69 L615.66,728.09 L615.44,726.49 L615.22,724.89 L615.01,723.30 L614.80,721.70 L614.59,720.10 L614.39,718.50 L614.20,716.90 L614.00,715.30 L613.81,713.71 L613.63,712.11 L613.45,710.51 L613.27,708.91 L613.09,707.31 L612.91,705.71 L612.74,704.11 L612.57,702.52 L612.40,700.92 L612.23,699.32 L612.07,697.72 L611.90,696.12 L611.74,694.52 L611.58,692.92 L611.42,691.33 L611.25,689.73 L611.09,688.13 L610.94,686.53 L610.78,684.93 L610.62,683.33 L610.46,681.74 L610.31,680.14 L610.15,678.54 L610.00,676.94 L609.85,675.34 L609.70,673.74 L609.55,672.14 L609.40,670.55 L609.25,668.95 L609.11,667.35 L608.96,665.75 L608.82,664.15 L608.68,662.55 L608.55,660.96 L608.41,659.36 L608.28,657.76 L608.16,656.16 L608.03,654.56 L607.91,652.96 L607.79,651.36 L607.67,649.77 L607.56,648.17 L607.45,646.57 L607.35,644.97 L607.24,643.37 L607.14,641.77 L607.05,640.18 L606.96,638.58 L606.87,636.98 L606.79,635.38 L606.71,633.78 L606.63,632.18 L606.56,630.58 L606.49,628.99 L606.42,627.39 L606.36,625.79 L606.30,624.19 L606.25,622.59 L606.20,620.99 L606.15,619.39 L606.11,617.80 L606.07,616.20 L606.03,614.60 L606.00,613.00 L605.97,611.40 L605.95,609.80 L605.93,608.21 L605.91,606.61 L605.89,605.01 L605.88,603.41 L605.87,601.81 L605.87,600.21 L605.87,598.61 L605.87,597.02 L605.87,595.42 L605.88,593.82 L605.89,592.22 L605.91,590.62 L605.93,589.02 L605.95,587.43 L605.97,585.83 L606.00,584.23 L606.03,582.63 L606.06,581.03 L606.10,579.43 L606.14,577.83 L606.18,576.24 L606.22,574.64 L606.27,573.04 L606.32,571.44 L606.37,569.84 L606.42,568.24 L606.47,566.65 L606.53,565.05 L606.59,563.45 L606.65,561.85 L606.71,560.25 L606.77,558.65 L606.83,557.05 L606.89,555.46 L606.96,553.86 L607.02,552.26 L607.08,550.66 L607.15,549.06 L607.21,547.46 L607.27,545.86 L607.33,544.27 L607.39,542.67 L607.44,541.07 L607.50,539.47 L607.55,537.87 L607.60,536.27 L607.65,534.68 L607.69,533.08 L607.73,531.48 L607.77,529.88 L607.81,528.28 L607.84,526.68 L607.87,525.08 L607.89,523.49 L607.91,521.89 L607.93,520.29 L607.94,518.69 L607.94,517.09 L607.95,515.49 L607.94,513.90 L607.94,512.30 L607.93,510.70 L607.91,509.10 L607.89,507.50 L607.87,505.90 L607.85,504.30 L607.82,502.71 L607.78,501.11 L607.74,499.51 L607.70,497.91 L607.66,496.31 L607.62,494.71 L607.57,493.12 L607.52,491.52 L607.47,489.92 L607.41,488.32 L607.36,486.72 L607.31,485.12 L607.25,483.52 L607.20,481.93 L607.14,480.33 L607.09,478.73 L607.03,477.13 L606.98,475.53 L606.93,473.93 L606.89,472.33 L606.84,470.74 L606.80,469.14 L606.76,467.54 L606.73,465.94 L606.70,464.34 L606.67,462.74 L606.65,461.15 L606.63,459.55 L606.61,457.95 L606.60,456.35 L606.60,454.75 L606.60,453.15 L606.61,451.55 L606.62,449.96 L606.64,448.36 L606.67,446.76 L606.70,445.16 L606.73,443.56 L606.77,441.96 L606.82,440.37 L606.87,438.77 L606.93,437.17 L607.00,435.57 L607.07,433.97 L607.14,432.37 L607.23,430.77 L607.31,429.18 L607.40,427.58 L607.50,425.98 L607.60,424.38 L607.71,422.78 L607.82,421.18 L607.93,419.59 L608.05,417.99 L608.17,416.39 L608.30,414.79 L608.43,413.19 L608.56,411.59 L608.69,409.99 L608.83,408.40 L608.97,406.80 L609.12,405.20 L609.26,403.60 L609.41,402.00 L609.56,400.40 L609.71,398.81 L609.86,397.21 L610.01,395.61 L610.17,394.01 L610.32,392.41 L610.48,390.81 L610.64,389.21 L610.80,387.62 L610.96,386.02 L611.12,384.42 L611.28,382.82 L611.44,381.22 L611.60,379.62 L611.76,378.02 L611.92,376.43 L612.08,374.83 L612.24,373.23 L612.41,371.63 L612.57,370.03 L612.73,368.43 L612.89,366.84 L613.05,365.24 L613.22,363.64 L613.38,362.04 L613.54,360.44 L613.70,358.84 L613.86,357.24 L614.02,355.65 L614.18,354.05 L614.35,352.45 L614.51,350.85 L614.66,349.25 L614.82,347.65 L614.98,346.06 L615.14,344.46 L615.30,342.86 L615.45,341.26 L615.61,339.66 L615.77,338.06 L615.92,336.46 L616.07,334.87 L616.22,333.27 L616.38,331.67 L616.53,330.07 L616.67,328.47 L616.82,326.87 L616.97,325.28 L617.11,323.68 L617.26,322.08 L617.40,320.48 L617.54,318.88 L617.68,317.28 L617.82,315.68 L617.96,314.09 L618.09,312.49 L618.23,310.89 L618.36,309.29 L618.49,307.69 L618.63,306.09 L618.76,304.49 L618.88,302.90 L619.01,301.30 L619.14,299.70 L619.27,298.10 L619.39,296.50 L619.52,294.90 L619.64,293.31 L619.76,291.71 L619.89,290.11 L620.01,288.51 L620.13,286.91 L620.25,285.31 L620.38,283.71 L620.50,282.12 L620.62,280.52 L620.75,278.92 L620.87,277.32 L620.99,275.72 L621.12,274.12 L621.24,272.53 L621.37,270.93 L621.50,269.33 L621.63,267.73 L621.76,266.13 L621.89,264.53 L622.02,262.93 L622.15,261.34 L622.29,259.74 L622.42,258.14 L622.56,256.54 L622.70,254.94 L622.84,253.34 L622.98,251.75 L623.12,250.15 L623.26,248.55 L623.40,246.95 L623.55,245.35 L623.70,243.75 L623.84,242.15 L623.99,240.56 L624.14,238.96 L624.29,237.36 L624.44,235.76 L624.58,234.16 L624.73,232.56 L624.88,230.96 L625.03,229.37 L625.18,227.77 L625.33,226.17 L625.48,224.57 L625.63,222.97 L625.78,221.37 L625.92,219.78 L626.07,218.18 L626.21,216.58 L626.36,214.98 L626.50,213.38 L626.64,211.78 L626.78,210.18 L626.91,208.59 L627.05,206.99 L627.18,205.39 L627.31,203.79 L627.44,202.19 L627.56,200.59 L627.69,199.00 L627.81,197.40 L627.93,195.80 L628.04,194.20 L628.16,192.60 L628.27,191.00 L628.38,189.40 L628.48,187.81 L628.59,186.21 L628.69,184.61 L628.78,183.01 L628.88,181.41 L628.97,179.81 L629.06,178.22 L629.15,176.62 L629.23,175.02 L629.31,173.42 L629.39,171.82 L629.47,170.22 L629.54,168.62 L629.62,167.03 L629.68,165.43 L629.75,163.83 L629.82,162.23 L629.88,160.63 L629.94,159.03 L630.00,157.43 L630.05,155.84 L630.11,154.24 L630.16,152.64 L630.21,151.04 L630.26,149.44 L630.30,147.84 L630.35,146.25 L630.39,144.65 L630.43,143.05 L630.47,141.45 L630.51,139.85 L630.54,138.25 L630.58,136.65 L630.61,135.06 L630.64,133.46 L630.68,131.86 L630.70,130.26 L630.73,128.66 L630.76,127.06 L630.79,125.47 L630.81,123.87 L630.83,122.27 L630.86,120.67 L630.88,119.07 L630.90,117.47 L630.92,115.87 L630.93,114.28 L630.95,112.68 L630.97,111.08 L630.98,109.48 L631.00,107.88 L631.01,106.28 L631.03,104.69 L631.04,103.09 L631.05,101.49 L631.06,99.89 L631.07,98.29 L631.08,96.69 L631.09,95.09 L631.10,93.50 L631.11,91.90 L631.11,90.30 L631.12,88.70 L631.13,87.10 L631.13,85.50 L631.14,83.90 L631.14,82.31 L631.15,80.71 L631.15,79.11 L631.16,77.51 L631.16,75.91 L631.16,74.31 L631.17,72.72 L631.17,71.12 L631.17,69.52 L631.18,67.92 L631.18,66.32 L631.18,64.72 L631.18,63.12 L631.18,61.53 L631.19,59.93 L631.19,58.33 L631.19,56.73 L631.19,55.13 L631.19,53.53 L631.19,51.94 L631.19,50.34 L631.19,48.74 L631.19,47.14 L631.20,45.54 L631.20,45.54 L631.21,47.14 L631.21,48.74 L631.21,50.34 L631.21,51.94 L631.21,53.53 L631.21,55.13 L631.21,56.73 L631.21,58.33 L631.21,59.93 L631.22,61.53 L631.22,63.12 L631.22,64.72 L631.22,66.32 L631.22,67.92 L631.23,69.52 L631.23,71.12 L631.23,72.72 L631.24,74.31 L631.24,75.91 L631.24,77.51 L631.25,79.11 L631.25,80.71 L631.26,82.31 L631.26,83.90 L631.27,85.50 L631.27,87.10 L631.28,88.70 L631.29,90.30 L631.29,91.90 L631.30,93.50 L631.31,95.09 L631.32,96.69 L631.33,98.29 L631.34,99.89 L631.35,101.49 L631.36,103.09 L631.37,104.69 L631.39,106.28 L631.40,107.88 L631.42,109.48 L631.43,111.08 L631.45,112.68 L631.47,114.28 L631.48,115.87 L631.50,117.47 L631.52,119.07 L631.54,120.67 L631.57,122.27 L631.59,123.87 L631.61,125.47 L631.64,127.06 L631.67,128.66 L631.70,130.26 L631.72,131.86 L631.76,133.46 L631.79,135.06 L631.82,136.65 L631.86,138.25 L631.89,139.85 L631.93,141.45 L631.97,143.05 L632.01,144.65 L632.05,146.25 L632.10,147.84 L632.14,149.44 L632.19,151.04 L632.24,152.64 L632.29,154.24 L632.35,155.84 L632.40,157.43 L632.46,159.03 L632.52,160.63 L632.58,162.23 L632.65,163.83 L632.72,165.43 L632.78,167.03 L632.86,168.62 L632.93,170.22 L633.01,171.82 L633.09,173.42 L633.17,175.02 L633.25,176.62 L633.34,178.22 L633.43,179.81 L633.52,181.41 L633.62,183.01 L633.71,184.61 L633.81,186.21 L633.92,187.81 L634.02,189.40 L634.13,191.00 L634.24,192.60 L634.36,194.20 L634.47,195.80 L634.59,197.40 L634.71,199.00 L634.84,200.59 L634.96,202.19 L635.09,203.79 L635.22,205.39 L635.35,206.99 L635.49,208.59 L635.62,210.18 L635.76,211.78 L635.90,213.38 L636.04,214.98 L636.19,216.58 L636.33,218.18 L636.48,219.78 L636.62,221.37 L636.77,222.97 L636.92,224.57 L637.07,226.17 L637.22,227.77 L637.37,229.37 L637.52,230.96 L637.67,232.56 L637.82,234.16 L637.96,235.76 L638.11,237.36 L638.26,238.96 L638.41,240.56 L638.56,242.15 L638.70,243.75 L638.85,245.35 L639.00,246.95 L639.14,248.55 L639.28,250.15 L639.42,251.75 L639.56,253.34 L639.70,254.94 L639.84,256.54 L639.98,258.14 L640.11,259.74 L640.25,261.34 L640.38,262.93 L640.51,264.53 L640.64,266.13 L640.77,267.73 L640.90,269.33 L641.03,270.93 L641.16,272.53 L641.28,274.12 L641.41,275.72 L641.53,277.32 L641.65,278.92 L641.78,280.52 L641.90,282.12 L642.02,283.71 L642.15,285.31 L642.27,286.91 L642.39,288.51 L642.51,290.11 L642.64,291.71 L642.76,293.31 L642.88,294.90 L643.01,296.50 L643.13,298.10 L643.26,299.70 L643.39,301.30 L643.52,302.90 L643.64,304.49 L643.77,306.09 L643.91,307.69 L644.04,309.29 L644.17,310.89 L644.31,312.49 L644.44,314.09 L644.58,315.68 L644.72,317.28 L644.86,318.88 L645.00,320.48 L645.14,322.08 L645.29,323.68 L645.43,325.28 L645.58,326.87 L645.73,328.47 L645.87,330.07 L646.02,331.67 L646.18,333.27 L646.33,334.87 L646.48,336.46 L646.63,338.06 L646.79,339.66 L646.95,341.26 L647.10,342.86 L647.26,344.46 L647.42,346.06 L647.58,347.65 L647.74,349.25 L647.89,350.85 L648.05,352.45 L648.22,354.05 L648.38,355.65 L648.54,357.24 L648.70,358.84 L648.86,360.44 L649.02,362.04 L649.18,363.64 L649.35,365.24 L649.51,366.84 L649.67,368.43 L649.83,370.03 L649.99,371.63 L650.16,373.23 L650.32,374.83 L650.48,376.43 L650.64,378.02 L650.80,379.62 L650.96,381.22 L651.12,382.82 L651.28,384.42 L651.44,386.02 L651.60,387.62 L651.76,389.21 L651.92,390.81 L652.08,392.41 L652.23,394.01 L652.39,395.61 L652.54,397.21 L652.69,398.81 L652.84,400.40 L652.99,402.00 L653.14,403.60 L653.28,405.20 L653.43,406.80 L653.57,408.40 L653.71,409.99 L653.84,411.59 L653.97,413.19 L654.10,414.79 L654.23,416.39 L654.35,417.99 L654.47,419.59 L654.58,421.18 L654.69,422.78 L654.80,424.38 L654.90,425.98 L655.00,427.58 L655.09,429.18 L655.17,430.77 L655.26,432.37 L655.33,433.97 L655.40,435.57 L655.47,437.17 L655.53,438.77 L655.58,440.37 L655.63,441.96 L655.67,443.56 L655.70,445.16 L655.73,446.76 L655.76,448.36 L655.78,449.96 L655.79,451.55 L655.80,453.15 L655.80,454.75 L655.80,456.35 L655.79,457.95 L655.77,459.55 L655.75,461.15 L655.73,462.74 L655.70,464.34 L655.67,465.94 L655.64,467.54 L655.60,469.14 L655.56,470.74 L655.51,472.33 L655.47,473.93 L655.42,475.53 L655.37,477.13 L655.31,478.73 L655.26,480.33 L655.20,481.93 L655.15,483.52 L655.09,485.12 L655.04,486.72 L654.99,488.32 L654.93,489.92 L654.88,491.52 L654.83,493.12 L654.78,494.71 L654.74,496.31 L654.70,497.91 L654.66,499.51 L654.62,501.11 L654.58,502.71 L654.55,504.30 L654.53,505.90 L654.51,507.50 L654.49,509.10 L654.47,510.70 L654.46,512.30 L654.46,513.90 L654.45,515.49 L654.46,517.09 L654.46,518.69 L654.47,520.29 L654.49,521.89 L654.51,523.49 L654.53,525.08 L654.56,526.68 L654.59,528.28 L654.63,529.88 L654.67,531.48 L654.71,533.08 L654.75,534.68 L654.80,536.27 L654.85,537.87 L654.90,539.47 L654.96,541.07 L655.01,542.67 L655.07,544.27 L655.13,545.86 L655.19,547.46 L655.25,549.06 L655.32,550.66 L655.38,552.26 L655.44,553.86 L655.51,555.46 L655.57,557.05 L655.63,558.65 L655.69,560.25 L655.75,561.85 L655.81,563.45 L655.87,565.05 L655.93,566.65 L655.98,568.24 L656.03,569.84 L656.08,571.44 L656.13,573.04 L656.18,574.64 L656.22,576.24 L656.26,577.83 L656.30,579.43 L656.34,581.03 L656.37,582.63 L656.40,584.23 L656.43,585.83 L656.45,587.43 L656.47,589.02 L656.49,590.62 L656.51,592.22 L656.52,593.82 L656.53,595.42 L656.53,597.02 L656.53,598.61 L656.53,600.21 L656.53,601.81 L656.52,603.41 L656.51,605.01 L656.49,606.61 L656.47,608.21 L656.45,609.80 L656.43,611.40 L656.40,613.00 L656.37,614.60 L656.33,616.20 L656.29,617.80 L656.25,619.39 L656.20,620.99 L656.15,622.59 L656.10,624.19 L656.04,625.79 L655.98,627.39 L655.91,628.99 L655.84,630.58 L655.77,632.18 L655.69,633.78 L655.61,635.38 L655.53,636.98 L655.44,638.58 L655.35,640.18 L655.26,641.77 L655.16,643.37 L655.05,644.97 L654.95,646.57 L654.84,648.17 L654.73,649.77 L654.61,651.36 L654.49,652.96 L654.37,654.56 L654.24,656.16 L654.12,657.76 L653.99,659.36 L653.85,660.96 L653.72,662.55 L653.58,664.15 L653.44,665.75 L653.29,667.35 L653.15,668.95 L653.00,670.55 L652.85,672.14 L652.70,673.74 L652.55,675.34 L652.40,676.94 L652.25,678.54 L652.09,680.14 L651.94,681.74 L651.78,683.33 L651.62,684.93 L651.46,686.53 L651.31,688.13 L651.15,689.73 L650.98,691.33 L650.82,692.92 L650.66,694.52 L650.50,696.12 L650.33,697.72 L650.17,699.32 L650.00,700.92 L649.83,702.52 L649.66,704.11 L649.49,705.71 L649.31,707.31 L649.13,708.91 L648.95,710.51 L648.77,712.11 L648.59,713.71 L648.40,715.30 L648.20,716.90 L648.01,718.50 L647.81,720.10 L647.60,721.70 L647.39,723.30 L647.18,724.89 L646.96,726.49 L646.74,728.09 L646.51,729.69 L646.27,731.29 L646.04,732.89 L645.79,734.49 L645.54,736.08 L645.29,737.68 L645.03,739.28 L644.76,740.88 L644.49,742.48 L644.21,744.08 L643.93,745.67 L643.65,747.27 L643.36,748.87 L643.07,750.47 L642.77,752.07 L642.47,753.67 L642.17,755.27 L641.86,756.86 L641.55,758.46 L641.24,760.06 L640.93,761.66 L640.62,763.26 L640.31,764.86 L640.00,766.45 L639.69,768.05 L639.39,769.65 L639.08,771.25 L638.78,772.85 L638.48,774.45 L638.18,776.05 L637.89,777.64 L637.60,779.24 L637.31,780.84 L637.04,782.44 L636.76,784.04 L636.50,785.64 L636.23,787.24 L635.98,788.83 L635.73,790.43 L635.49,792.03 L635.26,793.63 L635.03,795.23 L634.82,796.83 L634.61,798.42 L634.40,800.02 L634.21,801.62 L634.02,803.22 L633.84,804.82 L633.67,806.42 L633.51,808.02 L633.35,809.61 L633.21,811.21 L633.06,812.81 L632.93,814.41 L632.81,816.01 L632.69,817.61 L632.58,819.20 L632.47,820.80 L632.37,822.40 L632.28,824.00 L632.19,825.60 L632.11,827.20 L632.03,828.80 L631.96,830.39 L631.90,831.99 L631.84,833.59 L631.78,835.19 L631.73,836.79 L631.68,838.39 L631.63,839.98 L631.59,841.58 L631.56,843.18 L631.52,844.78 L631.49,846.38 L631.46,847.98 L631.43,849.58 L631.41,851.17 L631.39,852.77 L631.37,854.37 L631.35,855.97 L631.33,857.57 L631.32,859.17 L631.31,860.77 L631.29,862.36Z" fill="#fff" stroke="#000" stroke-width="2.2" stroke-linejoin="round"/>
<path d="M844.00,810.70 L843.76,809.60 L843.50,808.50 L843.21,807.41 L842.89,806.31 L842.53,805.21 L842.14,804.12 L841.71,803.02 L841.24,801.92 L840.73,800.83 L840.17,799.73 L839.55,798.63 L838.89,797.54 L838.17,796.44 L837.38,795.34 L836.54,794.25 L835.63,793.15 L834.66,792.05 L833.61,790.96 L832.50,789.86 L831.30,788.76 L830.03,787.67 L828.69,786.57 L827.26,785.47 L825.76,784.38 L824.17,783.28 L822.50,782.18 L820.75,781.09 L818.93,779.99 L817.02,778.89 L815.04,777.80 L812.98,776.70 L810.86,775.60 L808.66,774.51 L806.41,773.41 L804.10,772.31 L801.73,771.22 L799.32,770.12 L796.87,769.02 L794.39,767.93 L791.89,766.83 L789.37,765.73 L786.84,764.64 L784.32,763.54 L781.80,762.44 L779.31,761.35 L776.85,760.25 L774.44,759.15 L772.07,758.06 L769.76,756.96 L767.53,755.86 L765.38,754.77 L763.32,753.67 L761.36,752.57 L759.51,751.48 L757.77,750.38 L756.16,749.28 L754.68,748.19 L753.34,747.09 L752.15,745.99 L751.10,744.90 L750.21,743.80 L749.47,742.70 L748.88,741.61 L748.46,740.51 L748.19,739.41 L748.08,738.32 L748.13,737.22 L748.33,736.12 L748.68,735.03 L749.17,733.93 L749.80,732.83 L750.57,731.74 L751.47,730.64 L752.48,729.54 L753.61,728.45 L754.85,727.35 L756.18,726.25 L757.59,725.16 L759.08,724.06 L760.65,722.96 L762.27,721.87 L763.94,720.77 L765.64,719.67 L767.38,718.58 L769.15,717.48 L770.92,716.38 L772.70,715.29 L774.47,714.19 L776.24,713.09 L777.98,712.00 L779.70,710.90 L781.39,709.80 L783.04,708.71 L784.64,707.61 L786.20,706.51 L787.71,705.42 L789.16,704.32 L790.56,703.22 L791.90,702.13 L793.17,701.03 L794.38,699.93 L795.53,698.84 L796.61,697.74 L797.63,696.64 L798.59,695.55 L799.48,694.45 L800.32,693.35 L801.09,692.26 L801.81,691.16 L802.48,690.06 L803.09,688.97 L803.65,687.87 L804.17,686.77 L804.65,685.68 L805.08,684.58 L805.48,683.48 L805.85,682.39 L806.19,681.29 L806.51,680.19 L806.80,679.10 L807.07,678.00 L807.33,676.90 L807.58,675.81 L807.82,674.71 L808.06,673.61 L808.29,672.52 L808.52,671.42 L808.76,670.32 L809.00,669.23 L809.24,668.13 L809.50,667.03 L809.77,665.94 L810.05,664.84 L810.34,663.74 L810.65,662.65 L810.97,661.55 L811.31,660.45 L811.66,659.36 L812.03,658.26 L812.42,657.16 L812.82,656.07 L813.23,654.97 L813.66,653.87 L814.10,652.78 L814.55,651.68 L815.02,650.58 L815.49,649.49 L815.97,648.39 L816.46,647.29 L816.95,646.20 L817.45,645.10 L817.94,644.00 L818.44,642.91 L818.94,641.81 L819.43,640.71 L819.93,639.62 L820.41,638.52 L820.89,637.42 L821.36,636.33 L821.82,635.23 L822.27,634.13 L822.71,633.04 L823.13,631.94 L823.55,630.84 L823.95,629.75 L824.33,628.65 L824.70,627.55 L825.05,626.46 L825.39,625.36 L825.71,624.26 L826.02,623.17 L826.31,622.07 L826.58,620.97 L826.84,619.88 L827.08,618.78 L827.30,617.68 L827.51,616.59 L827.71,615.49 L827.89,614.39 L828.06,613.30 L828.22,612.20 L828.36,611.10 L828.49,610.01 L828.61,608.91 L828.72,607.81 L828.82,606.72 L828.92,605.62 L829.00,604.52 L829.08,603.43 L829.15,602.33 L829.21,601.23 L829.27,600.14 L829.33,599.04 L829.38,597.94 L829.43,596.85 L829.47,595.75 L829.52,594.65 L829.56,593.56 L829.60,592.46 L829.64,591.36 L829.69,590.27 L829.73,589.17 L829.77,588.07 L829.81,586.98 L829.85,585.88 L829.90,584.78 L829.94,583.69 L829.99,582.59 L830.04,581.49 L830.09,580.40 L830.14,579.30 L830.19,578.20 L830.24,577.11 L830.29,576.01 L830.34,574.91 L830.39,573.82 L830.44,572.72 L830.48,571.62 L830.53,570.53 L830.58,569.43 L830.62,568.33 L830.66,567.24 L830.70,566.14 L830.73,565.04 L830.77,563.95 L830.79,562.85 L830.82,561.75 L830.84,560.66 L830.86,559.56 L830.87,558.46 L830.87,557.37 L830.88,556.27 L830.87,555.17 L830.87,554.08 L830.86,552.98 L830.84,551.88 L830.82,550.79 L830.79,549.69 L830.76,548.59 L830.73,547.50 L830.69,546.40 L830.65,545.30 L830.60,544.21 L830.55,543.11 L830.50,542.01 L830.45,540.92 L830.39,539.82 L830.34,538.72 L830.28,537.63 L830.22,536.53 L830.17,535.43 L830.12,534.34 L830.07,533.24 L830.02,532.14 L829.98,531.05 L829.94,529.95 L829.91,528.85 L829.88,527.76 L829.86,526.66 L829.85,525.56 L829.85,524.47 L829.86,523.37 L829.88,522.27 L829.92,521.18 L829.96,520.08 L830.02,518.98 L830.09,517.89 L830.18,516.79 L830.28,515.69 L830.39,514.60 L830.52,513.50 L830.67,512.40 L830.83,511.31 L831.00,510.21 L831.19,509.11 L831.40,508.02 L831.62,506.92 L831.86,505.82 L832.11,504.73 L832.37,503.63 L832.64,502.53 L832.93,501.44 L833.23,500.34 L833.54,499.24 L833.85,498.15 L834.18,497.05 L834.51,495.95 L834.85,494.86 L835.19,493.76 L835.53,492.66 L835.88,491.57 L836.23,490.47 L836.58,489.37 L836.92,488.28 L837.27,487.18 L837.61,486.08 L837.95,484.99 L838.28,483.89 L838.60,482.79 L838.92,481.70 L839.23,480.60 L839.53,479.50 L839.82,478.41 L840.10,477.31 L840.37,476.21 L840.63,475.12 L840.88,474.02 L841.11,472.92 L841.34,471.83 L841.55,470.73 L841.75,469.63 L841.94,468.54 L842.11,467.44 L842.28,466.34 L842.43,465.25 L842.57,464.15 L842.70,463.05 L842.82,461.96 L842.92,460.86 L843.02,459.76 L843.11,458.67 L843.19,457.57 L843.26,456.47 L843.32,455.38 L843.37,454.28 L843.42,453.18 L843.46,452.09 L843.49,450.99 L843.51,449.89 L843.53,448.80 L843.55,447.70 L843.56,446.60 L843.56,445.51 L843.57,444.41 L843.57,443.31 L843.56,442.22 L843.55,441.12 L843.55,440.02 L843.53,438.93 L843.52,437.83 L843.51,436.73 L843.49,435.64 L843.47,434.54 L843.46,433.44 L843.44,432.35 L843.42,431.25 L843.40,430.15 L843.38,429.06 L843.36,427.96 L843.35,426.86 L843.33,425.77 L843.31,424.67 L843.30,423.57 L843.28,422.48 L843.27,421.38 L843.25,420.28 L843.24,419.19 L843.23,418.09 L843.22,416.99 L843.21,415.90 L843.21,414.80 L843.20,413.70 L843.20,412.61 L843.20,411.51 L843.20,410.41 L843.20,409.32 L843.21,408.22 L843.21,407.12 L843.22,406.03 L843.23,404.93 L843.25,403.83 L843.26,402.74 L843.28,401.64 L843.30,400.54 L843.32,399.45 L843.35,398.35 L843.37,397.25 L843.40,396.16 L843.43,395.06 L843.47,393.96 L843.50,392.87 L843.54,391.77 L843.58,390.67 L843.62,389.58 L843.66,388.48 L843.71,387.38 L843.75,386.29 L843.80,385.19 L843.84,384.09 L843.89,383.00 L843.94,381.90 L843.98,380.80 L844.03,379.71 L844.08,378.61 L844.12,377.51 L844.17,376.42 L844.21,375.32 L844.26,374.22 L844.30,373.13 L844.34,372.03 L844.38,370.93 L844.41,369.84 L844.44,368.74 L844.47,367.64 L844.50,366.55 L844.53,365.45 L844.55,364.35 L844.57,363.26 L844.58,362.16 L844.60,361.06 L844.61,359.97 L844.61,358.87 L844.61,357.77 L844.61,356.68 L844.61,355.58 L844.60,354.48 L844.59,353.39 L844.58,352.29 L844.56,351.19 L844.54,350.10 L844.52,349.00 L844.50,347.90 L844.47,346.81 L844.44,345.71 L844.41,344.61 L844.38,343.52 L844.35,342.42 L844.32,341.32 L844.28,340.23 L844.25,339.13 L844.21,338.03 L844.18,336.94 L844.15,335.84 L844.11,334.74 L844.08,333.65 L844.05,332.55 L844.02,331.45 L844.00,330.36 L843.97,329.26 L843.95,328.16 L843.93,327.07 L843.91,325.97 L843.90,324.87 L843.89,323.78 L843.88,322.68 L843.88,321.58 L843.88,320.49 L843.88,319.39 L843.89,318.29 L843.89,317.20 L843.91,316.10 L843.92,315.00 L843.94,313.91 L843.97,312.81 L843.99,311.71 L844.02,310.62 L844.05,309.52 L844.09,308.42 L844.12,307.33 L844.16,306.23 L844.20,305.13 L844.25,304.04 L844.29,302.94 L844.34,301.84 L844.39,300.75 L844.44,299.65 L844.49,298.55 L844.54,297.46 L844.59,296.36 L844.64,295.26 L844.69,294.17 L844.74,293.07 L844.79,291.97 L844.84,290.88 L844.89,289.78 L844.94,288.68 L844.98,287.59 L845.03,286.49 L845.08,285.39 L845.12,284.30 L845.16,283.20 L845.20,282.11 L845.24,281.01 L845.28,279.91 L845.32,278.82 L845.35,277.72 L845.38,276.62 L845.41,275.53 L845.44,274.43 L845.47,273.33 L845.50,272.24 L845.52,271.14 L845.55,270.04 L845.57,268.95 L845.59,267.85 L845.61,266.75 L845.62,265.66 L845.64,264.56 L845.66,263.46 L845.67,262.37 L845.68,261.27 L845.69,260.17 L845.71,259.08 L845.71,257.98 L845.72,256.88 L845.73,255.79 L845.74,254.69 L845.75,253.59 L845.75,252.50 L845.76,251.40 L845.76,250.30 L845.84,250.30 L845.84,251.40 L845.85,252.50 L845.85,253.59 L845.86,254.69 L845.87,255.79 L845.88,256.88 L845.89,257.98 L845.89,259.08 L845.91,260.17 L845.92,261.27 L845.93,262.37 L845.94,263.46 L845.96,264.56 L845.98,265.66 L845.99,266.75 L846.01,267.85 L846.03,268.95 L846.05,270.04 L846.08,271.14 L846.10,272.24 L846.13,273.33 L846.16,274.43 L846.19,275.53 L846.22,276.62 L846.25,277.72 L846.28,278.82 L846.32,279.91 L846.36,281.01 L846.40,282.11 L846.44,283.20 L846.48,284.30 L846.52,285.39 L846.57,286.49 L846.62,287.59 L846.66,288.68 L846.71,289.78 L846.76,290.88 L846.81,291.97 L846.86,293.07 L846.91,294.17 L846.96,295.26 L847.01,296.36 L847.06,297.46 L847.11,298.55 L847.16,299.65 L847.21,300.75 L847.26,301.84 L847.31,302.94 L847.35,304.04 L847.40,305.13 L847.44,306.23 L847.48,307.33 L847.51,308.42 L847.55,309.52 L847.58,310.62 L847.61,311.71 L847.63,312.81 L847.66,313.91 L847.68,315.00 L847.69,316.10 L847.71,317.20 L847.71,318.29 L847.72,319.39 L847.72,320.49 L847.72,321.58 L847.72,322.68 L847.71,323.78 L847.70,324.87 L847.69,325.97 L847.67,327.07 L847.65,328.16 L847.63,329.26 L847.60,330.36 L847.58,331.45 L847.55,332.55 L847.52,333.65 L847.49,334.74 L847.45,335.84 L847.42,336.94 L847.39,338.03 L847.35,339.13 L847.32,340.23 L847.28,341.32 L847.25,342.42 L847.22,343.52 L847.19,344.61 L847.16,345.71 L847.13,346.81 L847.10,347.90 L847.08,349.00 L847.06,350.10 L847.04,351.19 L847.02,352.29 L847.01,353.39 L847.00,354.48 L846.99,355.58 L846.99,356.68 L846.99,357.77 L846.99,358.87 L846.99,359.97 L847.00,361.06 L847.02,362.16 L847.03,363.26 L847.05,364.35 L847.07,365.45 L847.10,366.55 L847.13,367.64 L847.16,368.74 L847.19,369.84 L847.22,370.93 L847.26,372.03 L847.30,373.13 L847.34,374.22 L847.39,375.32 L847.43,376.42 L847.48,377.51 L847.52,378.61 L847.57,379.71 L847.62,380.80 L847.66,381.90 L847.71,383.00 L847.76,384.09 L847.80,385.19 L847.85,386.29 L847.89,387.38 L847.94,388.48 L847.98,389.58 L848.02,390.67 L848.06,391.77 L848.10,392.87 L848.13,393.96 L848.17,395.06 L848.20,396.16 L848.23,397.25 L848.25,398.35 L848.28,399.45 L848.30,400.54 L848.32,401.64 L848.34,402.74 L848.35,403.83 L848.37,404.93 L848.38,406.03 L848.39,407.12 L848.39,408.22 L848.40,409.32 L848.40,410.41 L848.40,411.51 L848.40,412.61 L848.40,413.70 L848.39,414.80 L848.39,415.90 L848.38,416.99 L848.37,418.09 L848.36,419.19 L848.35,420.28 L848.33,421.38 L848.32,422.48 L848.30,423.57 L848.29,424.67 L848.27,425.77 L848.25,426.86 L848.24,427.96 L848.22,429.06 L848.20,430.15 L848.18,431.25 L848.16,432.35 L848.14,433.44 L848.13,434.54 L848.11,435.64 L848.09,436.73 L848.08,437.83 L848.07,438.93 L848.05,440.02 L848.05,441.12 L848.04,442.22 L848.03,443.31 L848.03,444.41 L848.04,445.51 L848.04,446.60 L848.05,447.70 L848.07,448.80 L848.09,449.89 L848.11,450.99 L848.14,452.09 L848.18,453.18 L848.23,454.28 L848.28,455.38 L848.34,456.47 L848.41,457.57 L848.49,458.67 L848.58,459.76 L848.68,460.86 L848.78,461.96 L848.90,463.05 L849.03,464.15 L849.17,465.25 L849.32,466.34 L849.49,467.44 L849.66,468.54 L849.85,469.63 L850.05,470.73 L850.26,471.83 L850.49,472.92 L850.72,474.02 L850.97,475.12 L851.23,476.21 L851.50,477.31 L851.78,478.41 L852.07,479.50 L852.37,480.60 L852.68,481.70 L853.00,482.79 L853.32,483.89 L853.65,484.99 L853.99,486.08 L854.33,487.18 L854.68,488.28 L855.02,489.37 L855.37,490.47 L855.72,491.57 L856.07,492.66 L856.41,493.76 L856.75,494.86 L857.09,495.95 L857.42,497.05 L857.75,498.15 L858.06,499.24 L858.37,500.34 L858.67,501.44 L858.96,502.53 L859.23,503.63 L859.49,504.73 L859.74,505.82 L859.98,506.92 L860.20,508.02 L860.41,509.11 L860.60,510.21 L860.77,511.31 L860.93,512.40 L861.08,513.50 L861.21,514.60 L861.32,515.69 L861.42,516.79 L861.51,517.89 L861.58,518.98 L861.64,520.08 L861.68,521.18 L861.72,522.27 L861.74,523.37 L861.75,524.47 L861.75,525.56 L861.74,526.66 L861.72,527.76 L861.69,528.85 L861.66,529.95 L861.62,531.05 L861.58,532.14 L861.53,533.24 L861.48,534.34 L861.43,535.43 L861.38,536.53 L861.32,537.63 L861.26,538.72 L861.21,539.82 L861.15,540.92 L861.10,542.01 L861.05,543.11 L861.00,544.21 L860.95,545.30 L860.91,546.40 L860.87,547.50 L860.84,548.59 L860.81,549.69 L860.78,550.79 L860.76,551.88 L860.74,552.98 L860.73,554.08 L860.73,555.17 L860.72,556.27 L860.73,557.37 L860.73,558.46 L860.74,559.56 L860.76,560.66 L860.78,561.75 L860.81,562.85 L860.83,563.95 L860.87,565.04 L860.90,566.14 L860.94,567.24 L860.98,568.33 L861.02,569.43 L861.07,570.53 L861.12,571.62 L861.16,572.72 L861.21,573.82 L861.26,574.91 L861.31,576.01 L861.36,577.11 L861.41,578.20 L861.46,579.30 L861.51,580.40 L861.56,581.49 L861.61,582.59 L861.66,583.69 L861.70,584.78 L861.75,585.88 L861.79,586.98 L861.83,588.07 L861.87,589.17 L861.91,590.27 L861.96,591.36 L862.00,592.46 L862.04,593.56 L862.08,594.65 L862.13,595.75 L862.17,596.85 L862.22,597.94 L862.27,599.04 L862.33,600.14 L862.39,601.23 L862.45,602.33 L862.52,603.43 L862.60,604.52 L862.68,605.62 L862.78,606.72 L862.88,607.81 L862.99,608.91 L863.11,610.01 L863.24,611.10 L863.38,612.20 L863.54,613.30 L863.71,614.39 L863.89,615.49 L864.09,616.59 L864.30,617.68 L864.52,618.78 L864.76,619.88 L865.02,620.97 L865.29,622.07 L865.58,623.17 L865.89,624.26 L866.21,625.36 L866.55,626.46 L866.90,627.55 L867.27,628.65 L867.65,629.75 L868.05,630.84 L868.47,631.94 L868.89,633.04 L869.33,634.13 L869.78,635.23 L870.24,636.33 L870.71,637.42 L871.19,638.52 L871.67,639.62 L872.17,640.71 L872.66,641.81 L873.16,642.91 L873.66,644.00 L874.15,645.10 L874.65,646.20 L875.14,647.29 L875.63,648.39 L876.11,649.49 L876.58,650.58 L877.05,651.68 L877.50,652.78 L877.94,653.87 L878.37,654.97 L878.78,656.07 L879.18,657.16 L879.57,658.26 L879.94,659.36 L880.29,660.45 L880.63,661.55 L880.95,662.65 L881.26,663.74 L881.55,664.84 L881.83,665.94 L882.10,667.03 L882.36,668.13 L882.60,669.23 L882.84,670.32 L883.08,671.42 L883.31,672.52 L883.54,673.61 L883.78,674.71 L884.02,675.81 L884.27,676.90 L884.53,678.00 L884.80,679.10 L885.09,680.19 L885.41,681.29 L885.75,682.39 L886.12,683.48 L886.52,684.58 L886.95,685.68 L887.43,686.77 L887.95,687.87 L888.51,688.97 L889.12,690.06 L889.79,691.16 L890.51,692.26 L891.28,693.35 L892.12,694.45 L893.01,695.55 L893.97,696.64 L894.99,697.74 L896.07,698.84 L897.22,699.93 L898.43,701.03 L899.70,702.13 L901.04,703.22 L902.44,704.32 L903.89,705.42 L905.40,706.51 L906.96,707.61 L908.56,708.71 L910.21,709.80 L911.90,710.90 L913.62,712.00 L915.36,713.09 L917.13,714.19 L918.90,715.29 L920.68,716.38 L922.45,717.48 L924.22,718.58 L925.96,719.67 L927.66,720.77 L929.33,721.87 L930.95,722.96 L932.52,724.06 L934.01,725.16 L935.42,726.25 L936.75,727.35 L937.99,728.45 L939.12,729.54 L940.13,730.64 L941.03,731.74 L941.80,732.83 L942.43,733.93 L942.92,735.03 L943.27,736.12 L943.47,737.22 L943.52,738.32 L943.41,739.41 L943.14,740.51 L942.72,741.61 L942.13,742.70 L941.39,743.80 L940.50,744.90 L939.45,745.99 L938.26,747.09 L936.92,748.19 L935.44,749.28 L933.83,750.38 L932.09,751.48 L930.24,752.57 L928.28,753.67 L926.22,754.77 L924.07,755.86 L921.84,756.96 L919.53,758.06 L917.16,759.15 L914.75,760.25 L912.29,761.35 L909.80,762.44 L907.28,763.54 L904.76,764.64 L902.23,765.73 L899.71,766.83 L897.21,767.93 L894.73,769.02 L892.28,770.12 L889.87,771.22 L887.50,772.31 L885.19,773.41 L882.94,774.51 L880.74,775.60 L878.62,776.70 L876.56,777.80 L874.58,778.89 L872.67,779.99 L870.85,781.09 L869.10,782.18 L867.43,783.28 L865.84,784.38 L864.34,785.47 L862.91,786.57 L861.57,787.67 L860.30,788.76 L859.10,789.86 L857.99,790.96 L856.94,792.05 L855.97,793.15 L855.06,794.25 L854.22,795.34 L853.43,796.44 L852.71,797.54 L852.05,798.63 L851.43,799.73 L850.87,800.83 L850.36,801.92 L849.89,803.02 L849.46,804.12 L849.07,805.21 L848.71,806.31 L848.39,807.41 L848.10,808.50 L847.84,809.60 L847.60,810.70Z" fill="#fff" stroke="#000" stroke-width="2.2" stroke-linejoin="round"/>
<g fill="#000"><circle cx="166.4" cy="159.4" r="4.6"/><circle cx="188.9" cy="151.8" r="4.6"/><circle cx="213.5" cy="171.6" r="4.6"/><circle cx="232.9" cy="168.2" r="4.6"/><circle cx="239.9" cy="174.4" r="4.6"/><circle cx="160.9" cy="199.2" r="4.6"/><circle cx="162.2" cy="209.4" r="4.6"/><circle cx="221.6" cy="194.5" r="4.6"/><circle cx="227.1" cy="200.4" r="4.6"/><circle cx="232.9" cy="200.4" r="4.6"/><circle cx="239.1" cy="195.6" r="4.6"/><circle cx="200.8" cy="202.0" r="4.6"/><circle cx="199.6" cy="208.8" r="4.6"/><circle cx="208.7" cy="205.4" r="4.6"/><circle cx="214.1" cy="204.1" r="4.6"/><circle cx="189.7" cy="207.7" r="4.6"/><circle cx="188.1" cy="216.9" r="4.6"/><circle cx="173.4" cy="218.4" r="4.6"/><circle cx="242.8" cy="217.8" r="4.6"/><circle cx="168.6" cy="228.5" r="4.6"/><circle cx="182.2" cy="228.1" r="4.6"/><circle cx="189.8" cy="229.1" r="4.6"/><circle cx="239.4" cy="232.0" r="4.6"/><circle cx="241.7" cy="234.4" r="4.6"/><circle cx="172.7" cy="243.6" r="4.6"/><circle cx="181.0" cy="244.2" r="4.6"/><circle cx="189.8" cy="242.3" r="4.6"/><circle cx="192.4" cy="248.9" r="4.6"/><circle cx="203.2" cy="251.3" r="4.6"/><circle cx="210.2" cy="246.8" r="4.6"/><circle cx="214.0" cy="240.9" r="4.6"/><circle cx="220.1" cy="246.2" r="4.6"/><circle cx="243.8" cy="252.4" r="4.6"/><circle cx="172.1" cy="266.8" r="4.6"/><circle cx="173.3" cy="269.4" r="4.6"/><circle cx="171.0" cy="286.3" r="4.6"/><circle cx="175.1" cy="287.2" r="4.6"/><circle cx="189.6" cy="292.4" r="4.6"/><circle cx="196.9" cy="287.1" r="4.6"/><circle cx="213.6" cy="296.3" r="4.6"/><circle cx="232.3" cy="288.3" r="4.6"/><circle cx="235.8" cy="291.6" r="4.6"/><circle cx="240.0" cy="286.6" r="4.6"/><circle cx="159.7" cy="324.0" r="4.6"/><circle cx="225.2" cy="318.1" r="4.6"/><circle cx="229.9" cy="319.3" r="4.6"/><circle cx="244.7" cy="317.3" r="4.6"/><circle cx="192.2" cy="328.7" r="4.6"/><circle cx="192.2" cy="333.5" r="4.6"/><circle cx="189.8" cy="350.6" r="4.6"/><circle cx="200.2" cy="355.3" r="4.6"/><circle cx="210.7" cy="350.6" r="4.6"/><circle cx="224.0" cy="352.1" r="4.6"/><circle cx="228.2" cy="356.5" r="4.6"/><circle cx="179.2" cy="362.0" r="4.6"/><circle cx="178.0" cy="366.5" r="4.6"/><circle cx="198.7" cy="368.3" r="4.6"/><circle cx="243.8" cy="372.4" r="4.6"/><circle cx="196.9" cy="389.1" r="4.6"/><circle cx="205.7" cy="394.2" r="4.6"/><circle cx="175.9" cy="392.7" r="4.6"/><circle cx="182.7" cy="395.4" r="4.6"/><circle cx="181.0" cy="398.9" r="4.6"/><circle cx="190.4" cy="407.8" r="4.6"/><circle cx="232.9" cy="399.5" r="4.6"/><circle cx="237.6" cy="399.5" r="4.6"/><circle cx="241.7" cy="409.2" r="4.6"/><circle cx="188.6" cy="419.6" r="4.6"/><circle cx="170.0" cy="427.8" r="4.6"/><circle cx="183.3" cy="429.6" r="4.6"/><circle cx="194.5" cy="430.8" r="4.6"/><circle cx="205.7" cy="425.7" r="4.6"/><circle cx="220.3" cy="428.8" r="4.6"/><circle cx="242.7" cy="439.4" r="4.6"/><circle cx="224.9" cy="445.3" r="4.6"/><circle cx="242.0" cy="458.1" r="4.6"/><circle cx="176.3" cy="468.5" r="4.6"/><circle cx="195.7" cy="464.4" r="4.6"/><circle cx="183.6" cy="480.9" r="4.6"/><circle cx="187.2" cy="503.5" r="4.6"/><circle cx="179.4" cy="508.4" r="4.6"/><circle cx="212.0" cy="512.4" r="4.6"/><circle cx="207.5" cy="518.6" r="4.6"/><circle cx="243.8" cy="512.7" r="4.6"/><circle cx="178.6" cy="543.1" r="4.6"/><circle cx="192.8" cy="547.5" r="4.6"/><circle cx="185.3" cy="585.8" r="4.6"/><circle cx="224.7" cy="743.4" r="4.6"/></g>
<g fill="#000"><circle cx="432.9" cy="152.3" r="4.6"/><circle cx="421.6" cy="156.2" r="4.6"/><circle cx="405.1" cy="159.4" r="4.6"/><circle cx="440.2" cy="168.4" r="4.6"/><circle cx="374.4" cy="175.1" r="4.6"/><circle cx="397.5" cy="174.3" r="4.6"/><circle cx="431.6" cy="176.5" r="4.6"/><circle cx="449.6" cy="199.5" r="4.6"/><circle cx="447.9" cy="208.7" r="4.6"/><circle cx="400.7" cy="205.2" r="4.6"/><circle cx="397.7" cy="210.5" r="4.6"/><circle cx="407.5" cy="206.6" r="4.6"/><circle cx="429.8" cy="209.3" r="4.6"/><circle cx="438.8" cy="217.2" r="4.6"/><circle cx="416.9" cy="219.3" r="4.6"/><circle cx="417.4" cy="228.7" r="4.6"/><circle cx="424.3" cy="230.2" r="4.6"/><circle cx="427.5" cy="229.7" r="4.6"/><circle cx="440.6" cy="232.5" r="4.6"/><circle cx="440.4" cy="236.0" r="4.6"/><circle cx="447.9" cy="228.7" r="4.6"/><circle cx="456.7" cy="233.5" r="4.6"/><circle cx="416.9" cy="238.5" r="4.6"/><circle cx="438.4" cy="242.7" r="4.6"/><circle cx="384.2" cy="245.8" r="4.6"/><circle cx="381.6" cy="251.7" r="4.6"/><circle cx="394.0" cy="244.3" r="4.6"/><circle cx="404.8" cy="255.3" r="4.6"/><circle cx="420.7" cy="251.7" r="4.6"/><circle cx="445.9" cy="251.5" r="4.6"/><circle cx="456.1" cy="252.3" r="4.6"/><circle cx="449.6" cy="256.8" r="4.6"/><circle cx="382.4" cy="272.0" r="4.6"/><circle cx="395.4" cy="268.5" r="4.6"/><circle cx="400.1" cy="272.6" r="4.6"/><circle cx="406.6" cy="268.5" r="4.6"/><circle cx="410.1" cy="275.6" r="4.6"/><circle cx="415.4" cy="267.0" r="4.6"/><circle cx="435.2" cy="271.7" r="4.6"/><circle cx="438.8" cy="274.7" r="4.6"/><circle cx="443.2" cy="279.7" r="4.6"/><circle cx="420.7" cy="282.6" r="4.6"/><circle cx="426.1" cy="285.0" r="4.6"/><circle cx="432.0" cy="287.4" r="4.6"/><circle cx="409.3" cy="286.8" r="4.6"/><circle cx="405.4" cy="291.3" r="4.6"/><circle cx="419.0" cy="294.4" r="4.6"/><circle cx="449.6" cy="287.4" r="4.6"/><circle cx="456.1" cy="285.6" r="4.6"/><circle cx="421.3" cy="306.2" r="4.6"/><circle cx="420.7" cy="311.5" r="4.6"/><circle cx="415.4" cy="313.9" r="4.6"/><circle cx="410.7" cy="317.4" r="4.6"/><circle cx="434.3" cy="313.9" r="4.6"/><circle cx="448.5" cy="305.1" r="4.6"/><circle cx="457.9" cy="305.4" r="4.6"/><circle cx="450.8" cy="310.4" r="4.6"/><circle cx="453.2" cy="315.7" r="4.6"/><circle cx="382.4" cy="316.8" r="4.6"/><circle cx="381.8" cy="346.9" r="4.6"/><circle cx="384.2" cy="351.6" r="4.6"/><circle cx="383.6" cy="356.4" r="4.6"/><circle cx="384.8" cy="362.3" r="4.6"/><circle cx="378.9" cy="368.7" r="4.6"/><circle cx="390.1" cy="371.1" r="4.6"/><circle cx="395.4" cy="364.6" r="4.6"/><circle cx="403.1" cy="365.6" r="4.6"/><circle cx="410.1" cy="357.0" r="4.6"/><circle cx="421.3" cy="349.3" r="4.6"/><circle cx="430.8" cy="347.2" r="4.6"/><circle cx="432.0" cy="352.8" r="4.6"/><circle cx="435.5" cy="358.7" r="4.6"/><circle cx="436.7" cy="366.0" r="4.6"/><circle cx="437.3" cy="369.8" r="4.6"/><circle cx="424.3" cy="371.9" r="4.6"/><circle cx="388.9" cy="389.7" r="4.6"/><circle cx="386.9" cy="398.8" r="4.6"/><circle cx="373.9" cy="407.4" r="4.6"/><circle cx="394.2" cy="411.2" r="4.6"/><circle cx="403.6" cy="408.8" r="4.6"/><circle cx="434.1" cy="389.7" r="4.6"/><circle cx="433.4" cy="394.1" r="4.6"/><circle cx="457.3" cy="385.0" r="4.6"/><circle cx="451.1" cy="398.0" r="4.6"/><circle cx="420.7" cy="402.4" r="4.6"/><circle cx="426.1" cy="401.2" r="4.6"/><circle cx="432.9" cy="404.1" r="4.6"/><circle cx="388.3" cy="423.6" r="4.6"/><circle cx="391.8" cy="424.2" r="4.6"/><circle cx="388.3" cy="428.3" r="4.6"/><circle cx="410.5" cy="427.5" r="4.6"/><circle cx="414.8" cy="431.8" r="4.6"/><circle cx="424.6" cy="438.3" r="4.6"/><circle cx="425.1" cy="441.3" r="4.6"/><circle cx="436.9" cy="441.9" r="4.6"/><circle cx="457.3" cy="446.8" r="4.6"/><circle cx="398.0" cy="446.0" r="4.6"/><circle cx="413.7" cy="447.8" r="4.6"/><circle cx="383.4" cy="465.5" r="4.6"/><circle cx="414.3" cy="461.0" r="4.6"/><circle cx="419.0" cy="461.0" r="4.6"/><circle cx="411.9" cy="467.8" r="4.6"/><circle cx="409.5" cy="474.3" r="4.6"/><circle cx="416.0" cy="477.3" r="4.6"/><circle cx="390.1" cy="473.7" r="4.6"/><circle cx="384.2" cy="479.0" r="4.6"/><circle cx="395.4" cy="479.4" r="4.6"/><circle cx="429.6" cy="482.0" r="4.6"/><circle cx="437.6" cy="477.3" r="4.6"/><circle cx="451.1" cy="479.0" r="4.6"/><circle cx="376.3" cy="502.9" r="4.6"/><circle cx="381.5" cy="504.0" r="4.6"/><circle cx="421.0" cy="514.2" r="4.6"/><circle cx="402.2" cy="520.9" r="4.6"/><circle cx="452.6" cy="519.1" r="4.6"/><circle cx="378.9" cy="538.6" r="4.6"/><circle cx="453.2" cy="541.5" r="4.6"/><circle cx="383.8" cy="552.4" r="4.6"/><circle cx="396.3" cy="549.8" r="4.6"/><circle cx="393.6" cy="556.3" r="4.6"/><circle cx="428.6" cy="553.1" r="4.6"/><circle cx="458.5" cy="559.2" r="4.6"/><circle cx="394.0" cy="589.7" r="4.6"/><circle cx="401.4" cy="620.2" r="4.6"/><circle cx="432.5" cy="617.9" r="4.6"/></g>
<g fill="#000"><circle cx="666.1" cy="156.4" r="4.6"/><circle cx="592.6" cy="215.9" r="4.6"/><circle cx="665.1" cy="217.1" r="4.6"/><circle cx="616.4" cy="233.2" r="4.6"/><circle cx="646.3" cy="235.1" r="4.6"/><circle cx="662.0" cy="234.3" r="4.6"/><circle cx="660.2" cy="243.7" r="4.6"/><circle cx="626.1" cy="243.0" r="4.6"/><circle cx="624.9" cy="250.5" r="4.6"/><circle cx="615.7" cy="250.2" r="4.6"/><circle cx="589.7" cy="248.6" r="4.6"/><circle cx="623.6" cy="267.4" r="4.6"/><circle cx="616.2" cy="278.2" r="4.6"/><circle cx="629.0" cy="282.7" r="4.6"/><circle cx="642.0" cy="279.7" r="4.6"/><circle cx="649.0" cy="274.8" r="4.6"/><circle cx="654.8" cy="279.9" r="4.6"/><circle cx="657.7" cy="283.7" r="4.6"/><circle cx="668.0" cy="290.9" r="4.6"/><circle cx="598.4" cy="294.6" r="4.6"/><circle cx="605.6" cy="292.9" r="4.6"/><circle cx="591.0" cy="310.2" r="4.6"/><circle cx="619.2" cy="309.0" r="4.6"/><circle cx="635.9" cy="316.2" r="4.6"/><circle cx="640.8" cy="315.4" r="4.6"/><circle cx="606.6" cy="327.9" r="4.6"/><circle cx="610.0" cy="331.0" r="4.6"/><circle cx="613.6" cy="334.0" r="4.6"/><circle cx="620.8" cy="329.9" r="4.6"/><circle cx="639.0" cy="334.8" r="4.6"/><circle cx="651.0" cy="333.6" r="4.6"/><circle cx="663.3" cy="335.0" r="4.6"/><circle cx="590.7" cy="348.7" r="4.6"/><circle cx="590.7" cy="354.8" r="4.6"/><circle cx="602.0" cy="348.4" r="4.6"/><circle cx="604.4" cy="356.2" r="4.6"/><circle cx="610.7" cy="346.1" r="4.6"/><circle cx="611.3" cy="352.3" r="4.6"/><circle cx="619.5" cy="348.0" r="4.6"/><circle cx="625.1" cy="356.9" r="4.6"/><circle cx="649.2" cy="350.0" r="4.6"/><circle cx="651.3" cy="356.4" r="4.6"/><circle cx="638.2" cy="359.3" r="4.6"/><circle cx="638.2" cy="363.6" r="4.6"/><circle cx="638.4" cy="368.2" r="4.6"/><circle cx="628.7" cy="365.1" r="4.6"/><circle cx="618.4" cy="366.1" r="4.6"/><circle cx="593.8" cy="373.3" r="4.6"/><circle cx="608.5" cy="373.0" r="4.6"/><circle cx="590.2" cy="390.3" r="4.6"/><circle cx="595.4" cy="389.8" r="4.6"/><circle cx="632.3" cy="387.5" r="4.6"/><circle cx="643.8" cy="384.7" r="4.6"/><circle cx="653.3" cy="385.2" r="4.6"/><circle cx="668.7" cy="382.6" r="4.6"/><circle cx="660.5" cy="393.9" r="4.6"/><circle cx="672.6" cy="396.5" r="4.6"/><circle cx="620.8" cy="394.4" r="4.6"/><circle cx="621.5" cy="400.6" r="4.6"/><circle cx="605.4" cy="402.4" r="4.6"/><circle cx="599.7" cy="408.8" r="4.6"/><circle cx="633.3" cy="405.2" r="4.6"/><circle cx="642.3" cy="400.8" r="4.6"/><circle cx="648.7" cy="402.1" r="4.6"/><circle cx="653.3" cy="404.2" r="4.6"/><circle cx="661.5" cy="406.7" r="4.6"/><circle cx="662.0" cy="410.8" r="4.6"/><circle cx="597.9" cy="423.7" r="4.6"/><circle cx="602.5" cy="422.1" r="4.6"/><circle cx="601.5" cy="428.3" r="4.6"/><circle cx="595.4" cy="432.9" r="4.6"/><circle cx="612.3" cy="425.7" r="4.6"/><circle cx="605.1" cy="437.0" r="4.6"/><circle cx="613.8" cy="441.1" r="4.6"/><circle cx="589.2" cy="442.6" r="4.6"/><circle cx="590.7" cy="446.2" r="4.6"/><circle cx="606.6" cy="448.3" r="4.6"/><circle cx="629.2" cy="422.1" r="4.6"/><circle cx="635.9" cy="421.6" r="4.6"/><circle cx="636.9" cy="428.8" r="4.6"/><circle cx="633.3" cy="431.4" r="4.6"/><circle cx="633.3" cy="435.0" r="4.6"/><circle cx="629.2" cy="443.5" r="4.6"/><circle cx="646.1" cy="423.2" r="4.6"/><circle cx="651.8" cy="423.7" r="4.6"/><circle cx="647.7" cy="430.8" r="4.6"/><circle cx="650.7" cy="433.9" r="4.6"/><circle cx="646.6" cy="436.5" r="4.6"/><circle cx="646.6" cy="442.1" r="4.6"/><circle cx="660.8" cy="428.3" r="4.6"/><circle cx="663.1" cy="439.1" r="4.6"/><circle cx="658.4" cy="445.2" r="4.6"/><circle cx="594.8" cy="461.7" r="4.6"/><circle cx="602.5" cy="459.7" r="4.6"/><circle cx="606.1" cy="457.6" r="4.6"/><circle cx="613.6" cy="460.7" r="4.6"/><circle cx="612.8" cy="467.4" r="4.6"/><circle cx="616.9" cy="469.9" r="4.6"/><circle cx="597.4" cy="467.4" r="4.6"/><circle cx="596.4" cy="473.0" r="4.6"/><circle cx="631.3" cy="463.8" r="4.6"/><circle cx="637.4" cy="467.4" r="4.6"/><circle cx="629.2" cy="469.4" r="4.6"/><circle cx="627.2" cy="475.6" r="4.6"/><circle cx="622.5" cy="478.6" r="4.6"/><circle cx="612.8" cy="477.1" r="4.6"/><circle cx="619.0" cy="485.3" r="4.6"/><circle cx="594.8" cy="482.2" r="4.6"/><circle cx="601.5" cy="482.7" r="4.6"/><circle cx="606.6" cy="486.3" r="4.6"/><circle cx="649.5" cy="460.0" r="4.6"/><circle cx="669.7" cy="460.7" r="4.6"/><circle cx="663.1" cy="469.9" r="4.6"/><circle cx="657.4" cy="474.5" r="4.6"/><circle cx="655.9" cy="478.1" r="4.6"/><circle cx="661.0" cy="477.6" r="4.6"/><circle cx="651.3" cy="497.6" r="4.6"/><circle cx="619.5" cy="497.1" r="4.6"/><circle cx="615.9" cy="498.1" r="4.6"/><circle cx="614.3" cy="502.2" r="4.6"/><circle cx="611.8" cy="505.3" r="4.6"/><circle cx="609.7" cy="508.4" r="4.6"/><circle cx="606.1" cy="512.0" r="4.6"/><circle cx="612.8" cy="511.5" r="4.6"/><circle cx="609.7" cy="516.6" r="4.6"/><circle cx="613.8" cy="518.6" r="4.6"/><circle cx="612.8" cy="521.7" r="4.6"/><circle cx="620.5" cy="524.3" r="4.6"/><circle cx="636.9" cy="525.8" r="4.6"/><circle cx="644.6" cy="520.7" r="4.6"/><circle cx="595.9" cy="537.6" r="4.6"/><circle cx="589.7" cy="542.7" r="4.6"/><circle cx="653.3" cy="535.3" r="4.6"/><circle cx="654.3" cy="540.4" r="4.6"/><circle cx="669.7" cy="542.4" r="4.6"/><circle cx="659.5" cy="547.6" r="4.6"/><circle cx="621.0" cy="548.6" r="4.6"/><circle cx="617.9" cy="553.2" r="4.6"/><circle cx="625.1" cy="551.2" r="4.6"/><circle cx="624.1" cy="556.3" r="4.6"/><circle cx="632.3" cy="554.2" r="4.6"/><circle cx="637.4" cy="550.6" r="4.6"/><circle cx="643.6" cy="550.1" r="4.6"/><circle cx="649.2" cy="549.6" r="4.6"/><circle cx="651.8" cy="554.2" r="4.6"/><circle cx="657.9" cy="558.8" r="4.6"/><circle cx="652.8" cy="563.0" r="4.6"/><circle cx="633.8" cy="559.9" r="4.6"/><circle cx="621.0" cy="563.0" r="4.6"/><circle cx="598.4" cy="554.7" r="4.6"/><circle cx="601.5" cy="561.9" r="4.6"/><circle cx="589.7" cy="560.9" r="4.6"/><circle cx="670.0" cy="558.1" r="4.6"/><circle cx="597.4" cy="579.8" r="4.6"/><circle cx="600.0" cy="577.2" r="4.6"/><circle cx="608.7" cy="576.2" r="4.6"/><circle cx="609.2" cy="582.9" r="4.6"/><circle cx="610.7" cy="587.5" r="4.6"/><circle cx="588.7" cy="591.1" r="4.6"/><circle cx="596.4" cy="598.3" r="4.6"/><circle cx="596.4" cy="601.3" r="4.6"/><circle cx="623.1" cy="578.3" r="4.6"/><circle cx="627.7" cy="572.6" r="4.6"/><circle cx="617.9" cy="597.2" r="4.6"/><circle cx="622.0" cy="593.6" r="4.6"/><circle cx="625.1" cy="590.1" r="4.6"/><circle cx="628.2" cy="593.1" r="4.6"/><circle cx="630.2" cy="587.5" r="4.6"/><circle cx="633.3" cy="584.9" r="4.6"/><circle cx="636.9" cy="583.4" r="4.6"/><circle cx="645.6" cy="578.3" r="4.6"/><circle cx="648.7" cy="575.7" r="4.6"/><circle cx="647.9" cy="589.5" r="4.6"/><circle cx="643.6" cy="599.6" r="4.6"/><circle cx="657.1" cy="594.5" r="4.6"/><circle cx="663.9" cy="576.0" r="4.6"/><circle cx="673.8" cy="591.4" r="4.6"/><circle cx="591.3" cy="612.6" r="4.6"/><circle cx="588.7" cy="616.0" r="4.6"/><circle cx="595.4" cy="621.3" r="4.6"/><circle cx="607.7" cy="621.5" r="4.6"/><circle cx="603.1" cy="629.5" r="4.6"/><circle cx="606.6" cy="633.1" r="4.6"/><circle cx="611.3" cy="630.1" r="4.6"/><circle cx="614.8" cy="636.2" r="4.6"/><circle cx="591.3" cy="633.6" r="4.6"/><circle cx="620.0" cy="613.3" r="4.6"/><circle cx="630.2" cy="626.0" r="4.6"/><circle cx="625.9" cy="634.5" r="4.6"/><circle cx="640.5" cy="629.5" r="4.6"/><circle cx="643.6" cy="614.7" r="4.6"/><circle cx="647.7" cy="619.3" r="4.6"/><circle cx="651.8" cy="621.3" r="4.6"/><circle cx="654.8" cy="613.1" r="4.6"/><circle cx="662.0" cy="611.1" r="4.6"/><circle cx="666.1" cy="611.6" r="4.6"/><circle cx="664.1" cy="617.2" r="4.6"/><circle cx="659.5" cy="626.0" r="4.6"/><circle cx="657.9" cy="631.6" r="4.6"/><circle cx="672.5" cy="633.6" r="4.6"/><circle cx="589.7" cy="651.7" r="4.6"/><circle cx="597.4" cy="650.2" r="4.6"/><circle cx="608.2" cy="651.2" r="4.6"/><circle cx="613.3" cy="654.3" r="4.6"/><circle cx="633.8" cy="654.8" r="4.6"/><circle cx="663.9" cy="649.1" r="4.6"/><circle cx="669.2" cy="651.7" r="4.6"/><circle cx="655.4" cy="660.9" r="4.6"/><circle cx="672.8" cy="663.5" r="4.6"/><circle cx="605.1" cy="667.1" r="4.6"/><circle cx="612.8" cy="664.0" r="4.6"/><circle cx="617.4" cy="666.1" r="4.6"/><circle cx="621.5" cy="662.5" r="4.6"/><circle cx="622.5" cy="668.6" r="4.6"/><circle cx="626.1" cy="664.0" r="4.6"/><circle cx="631.3" cy="662.5" r="4.6"/><circle cx="631.3" cy="672.7" r="4.6"/><circle cx="638.4" cy="669.1" r="4.6"/><circle cx="616.9" cy="677.8" r="4.6"/><circle cx="650.7" cy="671.7" r="4.6"/><circle cx="654.3" cy="672.7" r="4.6"/><circle cx="651.8" cy="676.8" r="4.6"/><circle cx="670.4" cy="674.6" r="4.6"/><circle cx="601.0" cy="687.3" r="4.6"/><circle cx="612.8" cy="693.2" r="4.6"/><circle cx="622.8" cy="694.8" r="4.6"/><circle cx="604.6" cy="702.5" r="4.6"/><circle cx="603.1" cy="704.0" r="4.6"/><circle cx="604.4" cy="715.8" r="4.6"/><circle cx="652.3" cy="687.9" r="4.6"/><circle cx="653.8" cy="700.2" r="4.6"/><circle cx="647.9" cy="707.6" r="4.6"/><circle cx="654.3" cy="716.3" r="4.6"/><circle cx="662.5" cy="709.4" r="4.6"/><circle cx="665.6" cy="696.8" r="4.6"/><circle cx="673.3" cy="693.7" r="4.6"/><circle cx="596.2" cy="727.7" r="4.6"/><circle cx="606.4" cy="730.3" r="4.6"/><circle cx="590.2" cy="734.4" r="4.6"/><circle cx="598.4" cy="738.0" r="4.6"/><circle cx="592.8" cy="741.5" r="4.6"/><circle cx="608.7" cy="742.1" r="4.6"/><circle cx="608.2" cy="745.6" r="4.6"/><circle cx="614.8" cy="745.6" r="4.6"/><circle cx="621.0" cy="741.0" r="4.6"/><circle cx="621.5" cy="749.2" r="4.6"/><circle cx="624.1" cy="728.7" r="4.6"/><circle cx="626.1" cy="731.3" r="4.6"/><circle cx="630.0" cy="739.5" r="4.6"/><circle cx="636.4" cy="730.6" r="4.6"/><circle cx="652.8" cy="735.9" r="4.6"/><circle cx="656.9" cy="735.4" r="4.6"/><circle cx="660.5" cy="738.5" r="4.6"/><circle cx="672.3" cy="740.0" r="4.6"/><circle cx="643.8" cy="754.9" r="4.6"/><circle cx="660.5" cy="726.7" r="4.6"/><circle cx="614.8" cy="501.2" r="4.6"/><circle cx="610.7" cy="507.4" r="4.6"/><circle cx="616.9" cy="506.3" r="4.6"/></g>
<g fill="#000"><circle cx="836.0" cy="331.4" r="4.6"/><circle cx="836.0" cy="402.7" r="4.6"/><circle cx="850.2" cy="435.1" r="4.6"/><circle cx="805.5" cy="503.7" r="4.6"/><circle cx="851.9" cy="498.8" r="4.6"/><circle cx="865.1" cy="497.1" r="4.6"/><circle cx="847.8" cy="508.0" r="4.6"/><circle cx="856.0" cy="519.1" r="4.6"/><circle cx="873.9" cy="513.5" r="4.6"/><circle cx="880.4" cy="516.8" r="4.6"/><circle cx="805.3" cy="547.5" r="4.6"/><circle cx="810.6" cy="548.6" r="4.6"/><circle cx="843.7" cy="555.4" r="4.6"/><circle cx="854.0" cy="558.1" r="4.6"/><circle cx="878.5" cy="574.6" r="4.6"/><circle cx="860.4" cy="583.4" r="4.6"/><circle cx="879.9" cy="584.8" r="4.6"/><circle cx="873.2" cy="590.2" r="4.6"/><circle cx="874.9" cy="592.5" r="4.6"/><circle cx="848.4" cy="591.3" r="4.6"/><circle cx="870.4" cy="601.0" r="4.6"/><circle cx="814.8" cy="617.9" r="4.6"/><circle cx="813.0" cy="620.8" r="4.6"/><circle cx="837.8" cy="632.0" r="4.6"/><circle cx="871.4" cy="639.7" r="4.6"/><circle cx="806.9" cy="651.8" r="4.6"/><circle cx="837.4" cy="651.8" r="4.6"/><circle cx="851.6" cy="652.3" r="4.6"/><circle cx="864.3" cy="661.5" r="4.6"/><circle cx="850.2" cy="663.6" r="4.6"/><circle cx="838.6" cy="666.5" r="4.6"/><circle cx="873.7" cy="666.6" r="4.6"/><circle cx="865.5" cy="668.0" r="4.6"/><circle cx="808.9" cy="666.0" r="4.6"/><circle cx="821.3" cy="669.8" r="4.6"/><circle cx="824.8" cy="673.3" r="4.6"/><circle cx="821.6" cy="678.6" r="4.6"/><circle cx="807.7" cy="679.2" r="4.6"/><circle cx="841.9" cy="674.5" r="4.6"/><circle cx="854.3" cy="674.5" r="4.6"/><circle cx="856.1" cy="678.0" r="4.6"/><circle cx="808.9" cy="689.2" r="4.6"/><circle cx="855.5" cy="689.2" r="4.6"/><circle cx="866.1" cy="694.8" r="4.6"/><circle cx="880.8" cy="691.6" r="4.6"/><circle cx="826.3" cy="704.6" r="4.6"/><circle cx="865.5" cy="706.9" r="4.6"/><circle cx="864.9" cy="710.5" r="4.6"/><circle cx="877.0" cy="706.3" r="4.6"/><circle cx="884.4" cy="715.8" r="4.6"/><circle cx="844.8" cy="717.2" r="4.6"/><circle cx="819.1" cy="726.2" r="4.6"/><circle cx="813.5" cy="728.8" r="4.6"/><circle cx="807.3" cy="731.8" r="4.6"/><circle cx="806.8" cy="735.4" r="4.6"/><circle cx="807.8" cy="741.1" r="4.6"/><circle cx="805.3" cy="745.2" r="4.6"/><circle cx="805.3" cy="748.8" r="4.6"/><circle cx="824.2" cy="739.5" r="4.6"/><circle cx="832.4" cy="743.6" r="4.6"/><circle cx="818.8" cy="750.0" r="4.6"/><circle cx="832.4" cy="753.4" r="4.6"/><circle cx="839.6" cy="731.8" r="4.6"/><circle cx="840.6" cy="736.5" r="4.6"/><circle cx="848.3" cy="728.8" r="4.6"/><circle cx="855.5" cy="729.8" r="4.6"/><circle cx="849.4" cy="734.4" r="4.6"/><circle cx="853.5" cy="739.5" r="4.6"/><circle cx="847.3" cy="743.6" r="4.6"/><circle cx="845.3" cy="749.8" r="4.6"/><circle cx="850.5" cy="747.0" r="4.6"/><circle cx="855.5" cy="749.8" r="4.6"/><circle cx="854.5" cy="754.9" r="4.6"/><circle cx="860.6" cy="754.4" r="4.6"/><circle cx="865.8" cy="750.8" r="4.6"/><circle cx="865.8" cy="741.1" r="4.6"/><circle cx="867.8" cy="725.7" r="4.6"/><circle cx="868.8" cy="729.8" r="4.6"/><circle cx="881.2" cy="727.7" r="4.6"/><circle cx="883.2" cy="742.6" r="4.6"/><circle cx="879.1" cy="748.8" r="4.6"/><circle cx="887.8" cy="750.3" r="4.6"/><circle cx="882.2" cy="752.9" r="4.6"/><circle cx="843.2" cy="733.4" r="4.6"/><circle cx="846.3" cy="738.5" r="4.6"/><circle cx="852.4" cy="744.7" r="4.6"/><circle cx="848.3" cy="751.8" r="4.6"/><circle cx="857.6" cy="751.8" r="4.6"/></g>
<rect x="148.3" y="326.0" width="107.2" height="6" fill="#000"/>
<rect x="362.9" y="351.7" width="107.2" height="6" fill="#000"/>
<rect x="577.6" y="515.5" width="107.2" height="6" fill="#000"/>
<rect x="792.2" y="672.0" width="107.2" height="6" fill="#000"/>
<rect x="73.9" y="1.2" width="899.9" height="905.5999999999999" fill="none" stroke="#262626" stroke-width="1.8"/>
<line x1="67" x2="73.9" y1="741.00" y2="741.00" stroke="#262626" stroke-width="2"/>
<text transform="translate(61.2,751.40) scale(1,1.1)" text-anchor="end" class="tk">0</text>
<line x1="67" x2="73.9" y1="549.63" y2="549.63" stroke="#262626" stroke-width="2"/>
<text transform="translate(61.2,560.03) scale(1,1.1)" text-anchor="end" class="tk">5</text>
<line x1="67" x2="73.9" y1="358.27" y2="358.27" stroke="#262626" stroke-width="2"/>
<text transform="translate(61.2,368.67) scale(1,1.1)" text-anchor="end" class="tk">0</text>
<path d="M39.7,368.57 V348.87" stroke="#111" stroke-width="2.1" fill="none"/>
<path d="M40.2,349.17 Q37.6,352.67 33.5,354.67" stroke="#111" stroke-width="2.0" fill="none"/>
<line x1="67" x2="73.9" y1="166.90" y2="166.90" stroke="#262626" stroke-width="2"/>
<text transform="translate(61.2,177.30) scale(1,1.1)" text-anchor="end" class="tk">5</text>
<path d="M39.7,177.20 V157.50" stroke="#111" stroke-width="2.1" fill="none"/>
<path d="M40.2,157.80 Q37.6,161.30 33.5,163.30" stroke="#111" stroke-width="2.0" fill="none"/>
<line x1="201.9" x2="201.9" y1="906.8" y2="913.5" stroke="#262626" stroke-width="2"/>
<text transform="translate(201.9,938.8) scale(1,1.04)" text-anchor="middle" class="tk" style="font-size:27.5px">CU</text>
<line x1="416.5" x2="416.5" y1="906.8" y2="913.5" stroke="#262626" stroke-width="2"/>
<text transform="translate(416.5,938.8) scale(1,1.04)" text-anchor="middle" class="tk" style="font-size:27.5px">SCI</text>
<line x1="631.2" x2="631.2" y1="906.8" y2="913.5" stroke="#262626" stroke-width="2"/>
<text transform="translate(631.2,938.8) scale(1,1.04)" text-anchor="middle" class="tk" style="font-size:27.5px">MCI</text>
<line x1="845.8" x2="845.8" y1="906.8" y2="913.5" stroke="#262626" stroke-width="2"/>
<text transform="translate(845.8,938.8) scale(1,1.04)" text-anchor="middle" class="tk" style="font-size:27.5px">AD</text>
<text transform="translate(524.2,968.8) scale(1,1.02)" text-anchor="middle" class="ti">Diagnosis Group</text>
<text transform="translate(18.9,454) rotate(-90) scale(1,1.02)" text-anchor="middle" class="ti" style="font-size:25.8px">Delayed Verbal Memory (RAVLT)</text>
</svg>
</body></html>
